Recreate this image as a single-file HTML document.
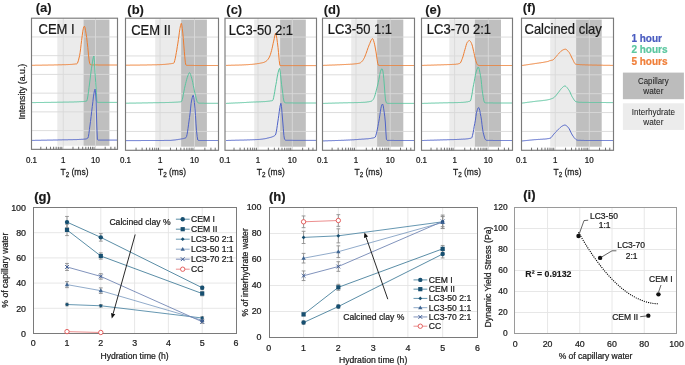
<!DOCTYPE html>
<html><head><meta charset="utf-8"><style>
html,body{margin:0;padding:0;background:#fff;}
svg{display:block;font-family:"Liberation Sans", sans-serif;}
#wrap{will-change:transform;width:685px;height:365px;overflow:hidden;}
text{stroke-width:0.22px;}
</style></head><body><div id="wrap">
<svg width="685" height="365" viewBox="0 0 685 365">
<rect width="685" height="365" fill="#fff"/>
<rect x="57.3" y="19.6" width="26.20" height="126.15" fill="#ebebeb"/>
<rect x="83.5" y="19.6" width="25.90" height="126.15" fill="#bfbfbf"/>
<line x1="31.5" y1="36.94" x2="117.5" y2="36.94" stroke="#d9d9d9" stroke-width="0.9"/>
<line x1="31.5" y1="55.67" x2="117.5" y2="55.67" stroke="#d9d9d9" stroke-width="0.9"/>
<line x1="31.5" y1="74.41" x2="117.5" y2="74.41" stroke="#d9d9d9" stroke-width="0.9"/>
<line x1="31.5" y1="93.14" x2="117.5" y2="93.14" stroke="#d9d9d9" stroke-width="0.9"/>
<line x1="31.5" y1="111.88" x2="117.5" y2="111.88" stroke="#d9d9d9" stroke-width="0.9"/>
<line x1="31.5" y1="130.61" x2="117.5" y2="130.61" stroke="#d9d9d9" stroke-width="0.9"/>
<line x1="63.3" y1="18.2" x2="63.3" y2="149.35" stroke="#d9d9d9" stroke-width="0.9"/>
<line x1="95.5" y1="18.2" x2="95.5" y2="149.35" stroke="#d9d9d9" stroke-width="0.9"/>
<path d="M32.0,65.3 L32.5,65.3 L33.0,65.3 L33.5,65.3 L34.0,65.3 L34.5,65.3 L35.0,65.2 L35.5,65.2 L36.0,65.2 L36.5,65.2 L37.0,65.2 L37.5,65.2 L38.0,65.2 L38.5,65.2 L39.0,65.2 L39.5,65.2 L40.0,65.2 L40.5,65.2 L41.0,65.2 L41.5,65.2 L42.0,65.1 L42.5,65.1 L43.0,65.1 L43.5,65.1 L44.0,65.1 L44.5,65.1 L45.0,65.1 L45.5,65.1 L46.0,65.1 L46.5,65.1 L47.0,65.1 L47.5,65.1 L48.0,65.1 L48.5,65.0 L49.0,65.0 L49.5,65.0 L50.0,65.0 L50.5,65.0 L51.0,65.0 L51.5,65.0 L52.0,65.0 L52.5,65.0 L53.0,65.0 L53.5,65.0 L54.0,64.9 L54.5,64.9 L55.0,64.9 L55.5,64.9 L56.0,64.9 L56.5,64.9 L57.0,64.9 L57.5,64.9 L58.0,64.9 L58.5,64.8 L59.0,64.8 L59.5,64.8 L60.0,64.8 L60.5,64.8 L61.0,64.8 L61.5,64.8 L62.0,64.7 L62.5,64.7 L63.1,64.7 L63.6,64.7 L64.1,64.7 L64.6,64.7 L65.1,64.7 L65.6,64.7 L66.1,64.6 L66.6,64.6 L67.1,64.6 L67.6,64.6 L68.1,64.6 L68.7,64.5 L69.2,64.5 L69.7,64.5 L70.2,64.5 L70.7,64.4 L71.2,64.4 L71.7,64.4 L72.2,64.3 L72.7,64.3 L73.2,64.2 L73.7,64.2 L74.3,64.1 L74.8,64.1 L75.3,64.0 L75.8,63.9 L76.3,63.9 L76.8,63.8 L77.4,63.3 L77.9,62.0 L78.5,60.2 L79.0,58.0 L79.6,55.6 L80.1,52.7 L80.6,48.8 L81.1,44.5 L81.6,40.5 L82.2,35.8 L82.8,31.2 L83.4,28.2 L83.9,26.8 L84.4,26.2 L85.0,27.4 L85.5,30.3 L86.1,33.7 L86.7,37.6 L87.2,42.3 L87.8,47.4 L88.5,54.9 L89.2,61.0 L89.7,63.3 L90.2,64.5 L90.8,64.7 L91.4,64.9 L92.0,64.9 L92.5,64.9 L93.0,64.9 L93.5,64.9 L94.0,64.9 L94.5,64.9 L95.0,64.9 L95.5,64.9 L96.0,64.9 L96.5,64.9 L97.0,64.9 L97.5,64.9 L98.0,64.9 L98.5,65.0 L99.0,65.0 L99.5,65.0 L100.0,65.0 L100.5,65.0 L101.0,65.0 L101.5,65.0 L102.0,65.0 L102.5,65.0 L103.0,65.0 L103.5,65.0 L104.0,65.0 L104.5,65.0 L105.0,65.0 L105.5,65.0 L106.0,65.0 L106.5,65.0 L107.0,65.0 L107.5,65.0 L108.0,65.0 L108.5,65.0 L109.0,65.0 L109.5,65.0 L110.0,65.0 L110.5,65.0 L111.0,65.0 L111.5,65.0 L112.0,65.0 L112.5,65.0 L113.0,65.0 L113.5,65.0 L114.0,65.0 L114.5,65.0 L115.0,65.0 L115.5,65.0 L116.0,65.0 L116.5,65.0 L117.0,65.0" fill="none" stroke="#ed7d31" stroke-width="1.0" stroke-linejoin="round"/>
<path d="M32.0,102.6 L32.5,102.6 L33.0,102.6 L33.5,102.6 L34.0,102.6 L34.5,102.6 L35.0,102.6 L35.5,102.6 L36.0,102.5 L36.5,102.5 L37.0,102.5 L37.5,102.5 L38.0,102.5 L38.5,102.5 L39.0,102.5 L39.5,102.5 L40.0,102.5 L40.5,102.5 L41.0,102.5 L41.5,102.5 L42.0,102.5 L42.5,102.5 L43.0,102.5 L43.5,102.5 L44.0,102.4 L44.5,102.4 L45.0,102.4 L45.5,102.4 L46.0,102.4 L46.5,102.4 L47.0,102.4 L47.5,102.4 L48.0,102.4 L48.5,102.4 L49.0,102.4 L49.5,102.4 L50.0,102.4 L50.5,102.4 L51.0,102.4 L51.5,102.3 L52.0,102.3 L52.5,102.3 L53.0,102.3 L53.5,102.3 L54.0,102.3 L54.5,102.3 L55.0,102.3 L55.5,102.3 L56.0,102.3 L56.5,102.3 L57.0,102.3 L57.5,102.2 L58.0,102.2 L58.5,102.2 L59.0,102.2 L59.5,102.2 L60.0,102.2 L60.5,102.2 L61.0,102.2 L61.5,102.2 L62.0,102.2 L62.5,102.2 L63.0,102.1 L63.5,102.1 L64.0,102.1 L64.5,102.1 L65.0,102.1 L65.5,102.1 L66.0,102.1 L66.5,102.1 L67.0,102.1 L67.5,102.1 L68.0,102.1 L68.5,102.1 L69.0,102.1 L69.5,102.0 L70.0,102.0 L70.5,102.0 L71.0,102.0 L71.5,102.0 L72.0,102.0 L72.5,102.0 L73.0,102.0 L73.5,102.0 L74.0,101.9 L74.5,101.9 L75.0,101.9 L75.5,101.9 L76.0,101.9 L76.5,101.9 L77.0,101.9 L77.5,101.8 L78.0,101.8 L78.5,101.8 L79.0,101.8 L79.5,101.7 L80.0,101.7 L80.5,101.7 L81.0,101.7 L81.5,101.6 L82.0,101.6 L82.5,101.6 L83.0,101.5 L83.5,101.5 L84.0,101.5 L84.5,101.4 L85.0,101.4 L85.5,101.3 L86.0,101.3 L86.8,100.9 L87.3,99.3 L87.9,95.9 L88.5,91.7 L89.0,87.6 L89.5,84.0 L90.0,80.0 L90.5,75.9 L91.0,71.9 L91.5,68.2 L92.0,65.0 L92.6,61.1 L93.3,57.5 L93.9,56.0 L94.5,62.2 L95.0,72.6 L95.7,82.3 L96.3,92.2 L96.9,102.0 L97.5,102.3 L98.0,102.4 L98.5,102.4 L99.0,102.4 L99.5,102.4 L100.0,102.4 L100.5,102.4 L101.0,102.4 L101.5,102.4 L102.0,102.4 L102.5,102.4 L103.0,102.4 L103.5,102.4 L104.0,102.4 L104.5,102.4 L105.0,102.4 L105.5,102.4 L106.0,102.4 L106.5,102.4 L107.0,102.4 L107.5,102.4 L108.0,102.4 L108.5,102.4 L109.0,102.4 L109.5,102.4 L110.0,102.4 L110.5,102.4 L111.0,102.4 L111.5,102.4 L112.0,102.4 L112.5,102.4 L113.0,102.4 L113.5,102.4 L114.0,102.4 L114.5,102.4 L115.0,102.4 L115.5,102.4 L116.0,102.4 L116.5,102.4 L117.0,102.4" fill="none" stroke="#5ac49e" stroke-width="1.0" stroke-linejoin="round"/>
<path d="M32.0,140.4 L32.5,140.4 L33.0,140.4 L33.5,140.4 L34.0,140.4 L34.5,140.4 L35.0,140.3 L35.5,140.3 L36.0,140.3 L36.5,140.3 L37.0,140.3 L37.5,140.3 L38.0,140.3 L38.5,140.3 L39.0,140.3 L39.5,140.3 L40.0,140.3 L40.5,140.3 L41.0,140.2 L41.5,140.2 L42.0,140.2 L42.5,140.2 L43.0,140.2 L43.5,140.2 L44.0,140.2 L44.5,140.2 L45.0,140.2 L45.5,140.2 L46.0,140.2 L46.5,140.2 L47.0,140.2 L47.5,140.1 L48.0,140.1 L48.5,140.1 L49.0,140.1 L49.5,140.1 L50.0,140.1 L50.5,140.1 L51.0,140.1 L51.5,140.1 L52.0,140.1 L52.5,140.1 L53.0,140.0 L53.5,140.0 L54.0,140.0 L54.5,140.0 L55.0,140.0 L55.5,140.0 L56.0,140.0 L56.5,140.0 L57.0,140.0 L57.5,140.0 L58.0,139.9 L58.5,139.9 L59.0,139.9 L59.5,139.9 L60.0,139.9 L60.5,139.9 L61.0,139.9 L61.5,139.9 L62.0,139.9 L62.5,139.8 L63.0,139.8 L63.5,139.8 L64.0,139.8 L64.5,139.8 L65.0,139.8 L65.5,139.8 L66.0,139.8 L66.5,139.8 L67.0,139.8 L67.5,139.8 L68.0,139.8 L68.5,139.7 L69.0,139.7 L69.5,139.7 L70.0,139.7 L70.5,139.7 L71.0,139.7 L71.5,139.7 L72.0,139.7 L72.5,139.7 L73.0,139.7 L73.5,139.6 L74.0,139.6 L74.5,139.6 L75.0,139.6 L75.5,139.6 L76.0,139.6 L76.5,139.6 L77.0,139.5 L77.5,139.5 L78.0,139.5 L78.5,139.5 L79.0,139.5 L79.5,139.4 L80.0,139.4 L80.5,139.4 L81.0,139.4 L81.5,139.3 L82.0,139.3 L82.5,139.3 L83.0,139.2 L83.5,139.2 L84.0,139.2 L84.5,139.1 L85.0,139.1 L85.6,139.0 L86.2,138.9 L86.7,138.7 L87.3,138.4 L87.9,138.0 L88.4,136.6 L88.9,133.5 L89.4,129.7 L89.9,126.0 L90.5,121.5 L91.1,116.5 L91.7,111.4 L92.3,106.4 L92.9,101.6 L93.4,96.9 L94.0,93.2 L94.5,90.5 L95.1,89.1 L95.6,92.9 L96.1,101.4 L96.8,126.0 L97.4,139.6 L98.0,140.0 L98.5,140.1 L99.0,140.1 L99.5,140.1 L100.0,140.1 L100.5,140.1 L101.0,140.1 L101.5,140.1 L102.0,140.1 L102.5,140.1 L103.0,140.1 L103.5,140.1 L104.0,140.1 L104.5,140.1 L105.0,140.1 L105.5,140.1 L106.0,140.1 L106.5,140.1 L107.0,140.1 L107.5,140.1 L108.0,140.1 L108.5,140.1 L109.0,140.1 L109.5,140.1 L110.0,140.1 L110.5,140.1 L111.0,140.1 L111.5,140.1 L112.0,140.1 L112.5,140.1 L113.0,140.1 L113.5,140.1 L114.0,140.1 L114.5,140.1 L115.0,140.1 L115.5,140.1 L116.0,140.1 L116.5,140.1 L117.0,140.1" fill="none" stroke="#4e62c8" stroke-width="1.0" stroke-linejoin="round"/>
<rect x="31.5" y="18.2" width="86.0" height="131.15" fill="none" stroke="#7a7a7a" stroke-width="1.15"/>
<line x1="40.79" y1="149.35" x2="40.79" y2="146.75" stroke="#5a5a5a" stroke-width="0.85"/>
<line x1="46.46" y1="149.35" x2="46.46" y2="146.75" stroke="#5a5a5a" stroke-width="0.85"/>
<line x1="50.49" y1="149.35" x2="50.49" y2="146.75" stroke="#5a5a5a" stroke-width="0.85"/>
<line x1="53.61" y1="149.35" x2="53.61" y2="146.75" stroke="#5a5a5a" stroke-width="0.85"/>
<line x1="56.16" y1="149.35" x2="56.16" y2="146.75" stroke="#5a5a5a" stroke-width="0.85"/>
<line x1="58.31" y1="149.35" x2="58.31" y2="146.75" stroke="#5a5a5a" stroke-width="0.85"/>
<line x1="60.18" y1="149.35" x2="60.18" y2="146.75" stroke="#5a5a5a" stroke-width="0.85"/>
<line x1="61.83" y1="149.35" x2="61.83" y2="146.75" stroke="#5a5a5a" stroke-width="0.85"/>
<line x1="72.99" y1="149.35" x2="72.99" y2="146.75" stroke="#5a5a5a" stroke-width="0.85"/>
<line x1="78.66" y1="149.35" x2="78.66" y2="146.75" stroke="#5a5a5a" stroke-width="0.85"/>
<line x1="82.69" y1="149.35" x2="82.69" y2="146.75" stroke="#5a5a5a" stroke-width="0.85"/>
<line x1="85.81" y1="149.35" x2="85.81" y2="146.75" stroke="#5a5a5a" stroke-width="0.85"/>
<line x1="88.36" y1="149.35" x2="88.36" y2="146.75" stroke="#5a5a5a" stroke-width="0.85"/>
<line x1="90.51" y1="149.35" x2="90.51" y2="146.75" stroke="#5a5a5a" stroke-width="0.85"/>
<line x1="92.38" y1="149.35" x2="92.38" y2="146.75" stroke="#5a5a5a" stroke-width="0.85"/>
<line x1="94.03" y1="149.35" x2="94.03" y2="146.75" stroke="#5a5a5a" stroke-width="0.85"/>
<line x1="105.19" y1="149.35" x2="105.19" y2="146.75" stroke="#5a5a5a" stroke-width="0.85"/>
<line x1="110.86" y1="149.35" x2="110.86" y2="146.75" stroke="#5a5a5a" stroke-width="0.85"/>
<line x1="114.89" y1="149.35" x2="114.89" y2="146.75" stroke="#5a5a5a" stroke-width="0.85"/>
<text x="35.70" y="12.10" font-size="13" text-anchor="start" font-weight="bold" fill="#1a1a1a" stroke="#1a1a1a" style="stroke-width:0.1px">(a)</text>
<text transform="translate(38.50,34.20) scale(1,1.1)" font-size="13" text-anchor="start" font-weight="normal" fill="#1a1a1a" stroke="#1a1a1a" >CEM I</text>
<text transform="translate(31.50,163.00) scale(1,1.1)" font-size="8" text-anchor="middle" font-weight="normal" fill="#1a1a1a" stroke="#1a1a1a" >0.1</text>
<text transform="translate(63.30,163.00) scale(1,1.1)" font-size="8" text-anchor="middle" font-weight="normal" fill="#1a1a1a" stroke="#1a1a1a" >1</text>
<text transform="translate(95.50,163.00) scale(1,1.1)" font-size="8" text-anchor="middle" font-weight="normal" fill="#1a1a1a" stroke="#1a1a1a" >10</text>
<text transform="translate(74.50,174.8) scale(1,1.15)" font-size="8.5" text-anchor="middle" fill="#1a1a1a" stroke="#1a1a1a">T<tspan font-size="6.3" dy="1.6">2</tspan><tspan dy="-1.6"> (ms)</tspan></text>
<rect x="155.2" y="19.6" width="25.90" height="127.10000000000002" fill="#ebebeb"/>
<rect x="181.1" y="19.6" width="25.80" height="127.10000000000002" fill="#bfbfbf"/>
<line x1="125.5" y1="37.07" x2="218.5" y2="37.07" stroke="#d9d9d9" stroke-width="0.9"/>
<line x1="125.5" y1="55.94" x2="218.5" y2="55.94" stroke="#d9d9d9" stroke-width="0.9"/>
<line x1="125.5" y1="74.81" x2="218.5" y2="74.81" stroke="#d9d9d9" stroke-width="0.9"/>
<line x1="125.5" y1="93.69" x2="218.5" y2="93.69" stroke="#d9d9d9" stroke-width="0.9"/>
<line x1="125.5" y1="112.56" x2="218.5" y2="112.56" stroke="#d9d9d9" stroke-width="0.9"/>
<line x1="125.5" y1="131.43" x2="218.5" y2="131.43" stroke="#d9d9d9" stroke-width="0.9"/>
<line x1="160.1" y1="18.2" x2="160.1" y2="150.3" stroke="#d9d9d9" stroke-width="0.9"/>
<line x1="194.5" y1="18.2" x2="194.5" y2="150.3" stroke="#d9d9d9" stroke-width="0.9"/>
<path d="M126.0,65.2 L126.5,65.2 L127.0,65.2 L127.5,65.2 L128.0,65.2 L128.5,65.2 L129.0,65.2 L129.5,65.2 L130.0,65.2 L130.5,65.1 L131.0,65.1 L131.5,65.1 L132.0,65.1 L132.5,65.1 L133.0,65.1 L133.5,65.1 L134.0,65.1 L134.5,65.1 L135.0,65.1 L135.5,65.1 L136.0,65.1 L136.5,65.1 L137.0,65.1 L137.5,65.1 L138.0,65.1 L138.5,65.1 L139.0,65.1 L139.5,65.1 L140.0,65.1 L140.5,65.0 L141.0,65.0 L141.5,65.0 L142.0,65.0 L142.5,65.0 L143.0,65.0 L143.5,65.0 L144.0,65.0 L144.5,65.0 L145.0,65.0 L145.5,65.0 L146.0,65.0 L146.5,65.0 L147.0,65.0 L147.5,64.9 L148.0,64.9 L148.5,64.9 L149.0,64.9 L149.5,64.9 L150.0,64.9 L150.5,64.9 L151.0,64.9 L151.5,64.9 L152.0,64.9 L152.5,64.8 L153.0,64.8 L153.5,64.8 L154.0,64.8 L154.5,64.8 L155.0,64.8 L155.5,64.8 L156.1,64.8 L156.6,64.8 L157.1,64.7 L157.6,64.7 L158.1,64.7 L158.6,64.7 L159.1,64.7 L159.6,64.7 L160.1,64.6 L160.6,64.6 L161.1,64.6 L161.6,64.6 L162.1,64.5 L162.6,64.5 L163.1,64.5 L163.6,64.4 L164.1,64.4 L164.6,64.4 L165.1,64.3 L165.6,64.3 L166.1,64.2 L166.6,64.2 L167.1,64.1 L167.6,64.1 L168.2,64.0 L168.7,64.0 L169.2,63.9 L169.7,63.8 L170.2,63.8 L170.7,63.7 L171.2,63.6 L171.7,63.6 L172.2,63.5 L172.7,63.4 L173.2,63.3 L173.7,63.2 L174.2,62.5 L174.7,60.7 L175.3,58.2 L175.8,55.4 L176.3,52.7 L176.8,49.9 L177.3,46.6 L177.9,43.1 L178.4,39.6 L178.9,36.1 L179.4,32.2 L180.0,28.4 L180.5,25.5 L181.3,23.3 L181.8,24.9 L182.3,28.7 L182.8,33.1 L183.3,38.5 L183.8,45.1 L184.3,51.2 L184.8,56.9 L185.3,62.2 L185.8,64.8 L186.4,65.2 L187.0,65.4 L187.5,65.4 L188.0,65.4 L188.5,65.4 L189.0,65.4 L189.5,65.4 L190.0,65.4 L190.5,65.4 L191.0,65.4 L191.5,65.4 L192.0,65.4 L192.5,65.4 L193.0,65.4 L193.5,65.4 L194.0,65.4 L194.5,65.5 L195.0,65.5 L195.5,65.5 L196.0,65.5 L196.5,65.5 L197.0,65.5 L197.5,65.5 L198.0,65.5 L198.5,65.5 L199.0,65.5 L199.5,65.5 L200.0,65.5 L200.5,65.5 L201.0,65.5 L201.5,65.5 L202.0,65.5 L202.5,65.5 L203.0,65.5 L203.5,65.5 L204.0,65.5 L204.5,65.5 L205.0,65.5 L205.5,65.5 L206.0,65.5 L206.5,65.5 L207.0,65.5 L207.5,65.5 L208.0,65.5 L208.5,65.5 L209.0,65.5 L209.5,65.5 L210.0,65.5 L210.5,65.5 L211.0,65.5 L211.5,65.5 L212.0,65.5 L212.5,65.5 L213.0,65.5 L213.5,65.5 L214.0,65.5 L214.5,65.5 L215.0,65.5 L215.5,65.5 L216.0,65.5 L216.5,65.5 L217.0,65.5 L217.5,65.5 L218.0,65.5" fill="none" stroke="#ed7d31" stroke-width="1.0" stroke-linejoin="round"/>
<path d="M126.0,103.2 L126.5,103.2 L127.0,103.2 L127.5,103.2 L128.0,103.2 L128.5,103.2 L129.0,103.2 L129.5,103.1 L130.0,103.1 L130.5,103.1 L131.0,103.1 L131.5,103.1 L132.0,103.1 L132.5,103.1 L133.0,103.1 L133.5,103.1 L134.0,103.1 L134.5,103.1 L135.0,103.1 L135.5,103.1 L136.0,103.0 L136.5,103.0 L137.0,103.0 L137.5,103.0 L138.0,103.0 L138.5,103.0 L139.0,103.0 L139.5,103.0 L140.0,103.0 L140.5,103.0 L141.0,103.0 L141.5,103.0 L142.0,103.0 L142.5,102.9 L143.0,102.9 L143.5,102.9 L144.0,102.9 L144.5,102.9 L145.0,102.9 L145.5,102.9 L146.0,102.9 L146.5,102.9 L147.0,102.9 L147.5,102.9 L148.0,102.8 L148.5,102.8 L149.0,102.8 L149.5,102.8 L150.0,102.8 L150.5,102.8 L151.0,102.8 L151.5,102.8 L152.0,102.8 L152.5,102.8 L153.0,102.7 L153.5,102.7 L154.0,102.7 L154.5,102.7 L155.0,102.7 L155.5,102.7 L156.0,102.7 L156.5,102.7 L157.0,102.7 L157.5,102.7 L158.1,102.7 L158.6,102.7 L159.1,102.7 L159.6,102.6 L160.1,102.6 L160.6,102.6 L161.1,102.6 L161.6,102.6 L162.1,102.6 L162.6,102.6 L163.1,102.6 L163.6,102.6 L164.1,102.6 L164.6,102.6 L165.1,102.6 L165.6,102.5 L166.1,102.5 L166.6,102.5 L167.1,102.5 L167.6,102.5 L168.1,102.5 L168.6,102.5 L169.1,102.5 L169.6,102.4 L170.1,102.4 L170.6,102.4 L171.1,102.4 L171.6,102.4 L172.1,102.4 L172.6,102.3 L173.1,102.3 L173.7,102.3 L174.2,102.3 L174.7,102.2 L175.2,102.2 L175.7,102.2 L176.2,102.2 L176.7,102.1 L177.2,102.1 L177.7,102.1 L178.2,102.0 L178.7,102.0 L179.2,102.0 L179.7,101.9 L180.2,101.9 L180.7,101.8 L181.2,101.8 L181.8,101.1 L182.3,99.5 L182.9,97.0 L183.4,94.2 L184.0,91.1 L184.5,88.3 L185.1,85.8 L185.6,83.6 L186.2,81.4 L186.7,79.3 L187.3,77.4 L187.8,75.9 L188.4,74.5 L188.9,73.2 L189.5,72.7 L190.1,73.2 L190.6,74.5 L191.1,76.3 L191.7,78.1 L192.2,80.1 L192.8,82.7 L193.3,85.5 L193.9,88.3 L194.4,91.0 L195.0,93.4 L195.6,95.7 L196.1,98.0 L196.7,100.1 L197.2,101.8 L197.8,102.6 L198.4,102.9 L198.9,103.1 L199.5,103.2 L200.0,103.2 L200.5,103.2 L201.0,103.2 L201.5,103.2 L202.0,103.2 L202.5,103.2 L203.0,103.2 L203.5,103.2 L204.0,103.2 L204.5,103.3 L205.0,103.3 L205.5,103.3 L206.0,103.3 L206.5,103.3 L207.0,103.3 L207.5,103.3 L208.0,103.3 L208.5,103.3 L209.0,103.3 L209.5,103.3 L210.0,103.3 L210.5,103.3 L211.0,103.3 L211.5,103.3 L212.0,103.3 L212.5,103.3 L213.0,103.3 L213.5,103.3 L214.0,103.3 L214.5,103.3 L215.0,103.3 L215.5,103.3 L216.0,103.3 L216.5,103.3 L217.0,103.3 L217.5,103.3 L218.0,103.3" fill="none" stroke="#5ac49e" stroke-width="1.0" stroke-linejoin="round"/>
<path d="M126.0,140.6 L126.5,140.6 L127.0,140.6 L127.5,140.6 L128.0,140.6 L128.5,140.6 L129.0,140.6 L129.5,140.6 L130.0,140.6 L130.5,140.6 L131.0,140.6 L131.5,140.6 L132.0,140.6 L132.5,140.6 L133.0,140.6 L133.5,140.6 L134.0,140.6 L134.5,140.6 L135.0,140.6 L135.5,140.6 L136.0,140.6 L136.5,140.6 L137.0,140.6 L137.5,140.6 L138.0,140.6 L138.5,140.6 L139.0,140.6 L139.5,140.6 L140.0,140.6 L140.5,140.6 L141.0,140.6 L141.5,140.5 L142.0,140.5 L142.5,140.5 L143.0,140.5 L143.5,140.5 L144.0,140.5 L144.5,140.5 L145.0,140.5 L145.5,140.5 L146.0,140.5 L146.5,140.5 L147.0,140.5 L147.5,140.5 L148.0,140.5 L148.5,140.5 L149.0,140.5 L149.5,140.5 L150.0,140.5 L150.5,140.5 L151.0,140.5 L151.5,140.5 L152.0,140.5 L152.5,140.5 L153.0,140.5 L153.5,140.5 L154.0,140.5 L154.5,140.5 L155.0,140.5 L155.5,140.5 L156.0,140.5 L156.5,140.5 L157.0,140.5 L157.5,140.5 L158.0,140.5 L158.5,140.5 L159.0,140.5 L159.5,140.5 L160.0,140.5 L160.5,140.5 L161.0,140.5 L161.5,140.5 L162.0,140.5 L162.5,140.5 L163.0,140.5 L163.5,140.5 L164.0,140.4 L164.5,140.4 L165.0,140.4 L165.5,140.4 L166.0,140.4 L166.5,140.4 L167.0,140.4 L167.5,140.4 L168.0,140.4 L168.5,140.4 L169.0,140.4 L169.5,140.4 L170.0,140.4 L170.5,140.4 L171.0,140.3 L171.5,140.3 L172.0,140.3 L172.5,140.2 L173.0,140.2 L173.5,140.1 L174.0,140.1 L174.5,140.0 L175.1,139.9 L175.6,139.9 L176.1,139.8 L176.6,139.7 L177.1,139.7 L177.6,139.6 L178.1,139.5 L178.6,139.4 L179.1,139.3 L179.6,139.3 L180.1,139.2 L180.6,139.1 L181.1,139.0 L181.6,138.9 L182.2,138.8 L182.7,138.7 L183.3,138.6 L183.8,138.5 L184.4,138.3 L184.9,138.1 L185.5,137.9 L186.0,137.6 L186.5,136.7 L187.0,134.7 L187.5,131.9 L188.0,128.5 L188.5,124.8 L189.0,121.1 L189.5,117.5 L190.1,113.1 L190.6,108.1 L191.1,103.4 L191.7,100.0 L192.2,97.8 L192.7,96.0 L193.2,95.2 L193.8,97.4 L194.4,102.6 L195.0,108.8 L195.5,115.6 L196.0,123.9 L196.5,130.6 L197.2,136.7 L197.8,140.0 L198.4,140.4 L199.0,140.5 L199.5,140.5 L200.0,140.5 L200.5,140.5 L201.0,140.5 L201.5,140.5 L202.0,140.5 L202.5,140.5 L203.0,140.5 L203.5,140.5 L204.0,140.5 L204.5,140.5 L205.0,140.5 L205.5,140.5 L206.0,140.5 L206.5,140.5 L207.0,140.5 L207.5,140.5 L208.0,140.5 L208.5,140.5 L209.0,140.5 L209.5,140.5 L210.0,140.5 L210.5,140.5 L211.0,140.5 L211.5,140.5 L212.0,140.5 L212.5,140.5 L213.0,140.5 L213.5,140.5 L214.0,140.5 L214.5,140.5 L215.0,140.5 L215.5,140.5 L216.0,140.5 L216.5,140.5 L217.0,140.5 L217.5,140.5 L218.0,140.5" fill="none" stroke="#4e62c8" stroke-width="1.0" stroke-linejoin="round"/>
<rect x="125.5" y="18.2" width="93.0" height="132.10000000000002" fill="none" stroke="#7a7a7a" stroke-width="1.15"/>
<line x1="136.06" y1="150.3" x2="136.06" y2="147.70" stroke="#5a5a5a" stroke-width="0.85"/>
<line x1="142.11" y1="150.3" x2="142.11" y2="147.70" stroke="#5a5a5a" stroke-width="0.85"/>
<line x1="146.41" y1="150.3" x2="146.41" y2="147.70" stroke="#5a5a5a" stroke-width="0.85"/>
<line x1="149.74" y1="150.3" x2="149.74" y2="147.70" stroke="#5a5a5a" stroke-width="0.85"/>
<line x1="152.47" y1="150.3" x2="152.47" y2="147.70" stroke="#5a5a5a" stroke-width="0.85"/>
<line x1="154.77" y1="150.3" x2="154.77" y2="147.70" stroke="#5a5a5a" stroke-width="0.85"/>
<line x1="156.77" y1="150.3" x2="156.77" y2="147.70" stroke="#5a5a5a" stroke-width="0.85"/>
<line x1="158.53" y1="150.3" x2="158.53" y2="147.70" stroke="#5a5a5a" stroke-width="0.85"/>
<line x1="170.46" y1="150.3" x2="170.46" y2="147.70" stroke="#5a5a5a" stroke-width="0.85"/>
<line x1="176.51" y1="150.3" x2="176.51" y2="147.70" stroke="#5a5a5a" stroke-width="0.85"/>
<line x1="180.81" y1="150.3" x2="180.81" y2="147.70" stroke="#5a5a5a" stroke-width="0.85"/>
<line x1="184.14" y1="150.3" x2="184.14" y2="147.70" stroke="#5a5a5a" stroke-width="0.85"/>
<line x1="186.87" y1="150.3" x2="186.87" y2="147.70" stroke="#5a5a5a" stroke-width="0.85"/>
<line x1="189.17" y1="150.3" x2="189.17" y2="147.70" stroke="#5a5a5a" stroke-width="0.85"/>
<line x1="191.17" y1="150.3" x2="191.17" y2="147.70" stroke="#5a5a5a" stroke-width="0.85"/>
<line x1="192.93" y1="150.3" x2="192.93" y2="147.70" stroke="#5a5a5a" stroke-width="0.85"/>
<line x1="204.86" y1="150.3" x2="204.86" y2="147.70" stroke="#5a5a5a" stroke-width="0.85"/>
<line x1="210.91" y1="150.3" x2="210.91" y2="147.70" stroke="#5a5a5a" stroke-width="0.85"/>
<line x1="215.21" y1="150.3" x2="215.21" y2="147.70" stroke="#5a5a5a" stroke-width="0.85"/>
<text x="127.30" y="13.50" font-size="13" text-anchor="start" font-weight="bold" fill="#1a1a1a" stroke="#1a1a1a" style="stroke-width:0.1px">(b)</text>
<text transform="translate(131.20,34.60) scale(1,1.1)" font-size="13" text-anchor="start" font-weight="normal" fill="#1a1a1a" stroke="#1a1a1a" >CEM II</text>
<text transform="translate(125.50,163.00) scale(1,1.1)" font-size="8" text-anchor="middle" font-weight="normal" fill="#1a1a1a" stroke="#1a1a1a" >0.1</text>
<text transform="translate(160.10,163.00) scale(1,1.1)" font-size="8" text-anchor="middle" font-weight="normal" fill="#1a1a1a" stroke="#1a1a1a" >1</text>
<text transform="translate(194.50,163.00) scale(1,1.1)" font-size="8" text-anchor="middle" font-weight="normal" fill="#1a1a1a" stroke="#1a1a1a" >10</text>
<text transform="translate(172.00,174.8) scale(1,1.15)" font-size="8.5" text-anchor="middle" fill="#1a1a1a" stroke="#1a1a1a">T<tspan font-size="6.3" dy="1.6">2</tspan><tspan dy="-1.6"> (ms)</tspan></text>
<rect x="254.2" y="19.6" width="25.90" height="127.10000000000002" fill="#ebebeb"/>
<rect x="280.1" y="19.6" width="25.70" height="127.10000000000002" fill="#bfbfbf"/>
<line x1="225.0" y1="37.07" x2="316.5" y2="37.07" stroke="#d9d9d9" stroke-width="0.9"/>
<line x1="225.0" y1="55.94" x2="316.5" y2="55.94" stroke="#d9d9d9" stroke-width="0.9"/>
<line x1="225.0" y1="74.81" x2="316.5" y2="74.81" stroke="#d9d9d9" stroke-width="0.9"/>
<line x1="225.0" y1="93.69" x2="316.5" y2="93.69" stroke="#d9d9d9" stroke-width="0.9"/>
<line x1="225.0" y1="112.56" x2="316.5" y2="112.56" stroke="#d9d9d9" stroke-width="0.9"/>
<line x1="225.0" y1="131.43" x2="316.5" y2="131.43" stroke="#d9d9d9" stroke-width="0.9"/>
<line x1="258.0" y1="18.2" x2="258.0" y2="150.3" stroke="#d9d9d9" stroke-width="0.9"/>
<line x1="292.3" y1="18.2" x2="292.3" y2="150.3" stroke="#d9d9d9" stroke-width="0.9"/>
<path d="M226.0,65.4 L226.5,65.4 L227.0,65.4 L227.5,65.4 L228.0,65.3 L228.5,65.3 L229.0,65.3 L229.5,65.3 L230.0,65.3 L230.5,65.3 L231.0,65.3 L231.5,65.2 L232.0,65.2 L232.5,65.2 L233.0,65.2 L233.5,65.2 L234.0,65.2 L234.5,65.2 L235.0,65.2 L235.5,65.1 L236.0,65.1 L236.5,65.1 L237.0,65.1 L237.5,65.1 L238.0,65.1 L238.5,65.1 L239.0,65.0 L239.5,65.0 L240.0,65.0 L240.5,65.0 L241.0,65.0 L241.5,65.0 L242.0,64.9 L242.5,64.9 L243.0,64.9 L243.5,64.9 L244.0,64.8 L244.5,64.8 L245.0,64.8 L245.5,64.8 L246.0,64.7 L246.5,64.7 L247.0,64.7 L247.5,64.7 L248.0,64.6 L248.5,64.6 L249.0,64.6 L249.6,64.5 L250.1,64.5 L250.6,64.4 L251.1,64.4 L251.6,64.4 L252.1,64.3 L252.6,64.3 L253.1,64.2 L253.6,64.2 L254.1,64.1 L254.6,64.1 L255.1,64.0 L255.6,63.9 L256.1,63.9 L256.6,63.8 L257.1,63.7 L257.6,63.6 L258.1,63.6 L258.6,63.5 L259.2,63.4 L259.7,63.3 L260.2,63.2 L260.7,63.1 L261.2,63.0 L261.7,62.9 L262.2,62.8 L262.7,62.7 L263.2,62.6 L263.8,62.4 L264.3,62.2 L264.9,61.9 L265.5,61.6 L266.0,61.2 L266.6,60.8 L267.2,60.3 L267.7,59.7 L268.3,59.0 L268.8,58.1 L269.4,57.1 L269.9,55.9 L270.5,54.3 L271.0,52.4 L271.6,50.4 L272.1,48.3 L272.6,46.1 L273.1,43.6 L273.7,41.1 L274.2,38.7 L274.9,35.2 L275.5,33.2 L276.2,35.0 L276.9,38.7 L277.4,42.5 L278.0,47.4 L278.5,52.4 L279.2,60.4 L279.9,65.4 L280.4,65.5 L281.0,65.6 L281.5,65.6 L282.0,65.6 L282.5,65.6 L283.0,65.6 L283.5,65.6 L284.0,65.6 L284.5,65.6 L285.0,65.6 L285.5,65.6 L286.0,65.6 L286.5,65.6 L287.0,65.6 L287.5,65.6 L288.0,65.6 L288.5,65.6 L289.0,65.6 L289.5,65.6 L290.0,65.6 L290.5,65.6 L291.0,65.6 L291.5,65.6 L292.0,65.6 L292.5,65.6 L293.0,65.6 L293.5,65.6 L294.0,65.6 L294.5,65.6 L295.0,65.6 L295.5,65.6 L296.0,65.6 L296.5,65.6 L297.0,65.6 L297.5,65.6 L298.0,65.6 L298.5,65.6 L299.0,65.6 L299.5,65.6 L300.0,65.6 L300.5,65.6 L301.0,65.6 L301.5,65.6 L302.0,65.6 L302.5,65.6 L303.0,65.6 L303.5,65.6 L304.0,65.6 L304.5,65.6 L305.0,65.6 L305.5,65.6 L306.0,65.6 L306.5,65.6 L307.0,65.6 L307.5,65.6 L308.0,65.6 L308.5,65.6 L309.0,65.6 L309.5,65.6 L310.0,65.6 L310.5,65.6 L311.0,65.6 L311.5,65.6 L312.0,65.6 L312.5,65.6 L313.0,65.6 L313.5,65.6 L314.0,65.6 L314.5,65.6 L315.0,65.6 L315.5,65.6 L316.0,65.6" fill="none" stroke="#ed7d31" stroke-width="1.0" stroke-linejoin="round"/>
<path d="M226.0,103.4 L226.5,103.4 L227.0,103.4 L227.5,103.3 L228.0,103.3 L228.5,103.3 L229.0,103.3 L229.5,103.2 L230.0,103.2 L230.5,103.2 L231.0,103.2 L231.5,103.1 L232.0,103.1 L232.5,103.1 L233.0,103.1 L233.5,103.0 L234.0,103.0 L234.5,103.0 L235.0,103.0 L235.5,102.9 L236.0,102.9 L236.5,102.9 L237.0,102.9 L237.5,102.9 L238.0,102.8 L238.5,102.8 L239.0,102.8 L239.5,102.8 L240.0,102.7 L240.5,102.7 L241.0,102.7 L241.5,102.7 L242.0,102.6 L242.5,102.6 L243.0,102.6 L243.5,102.6 L244.0,102.5 L244.5,102.5 L245.0,102.5 L245.5,102.5 L246.0,102.4 L246.5,102.4 L247.0,102.4 L247.5,102.3 L248.0,102.3 L248.5,102.3 L249.0,102.3 L249.5,102.2 L250.0,102.2 L250.5,102.2 L251.0,102.1 L251.5,102.1 L252.0,102.1 L252.5,102.1 L253.0,102.1 L253.5,102.0 L254.0,102.0 L254.5,102.0 L255.0,102.0 L255.5,102.0 L256.0,101.9 L256.5,101.9 L257.0,101.9 L257.5,101.9 L258.0,101.9 L258.5,101.9 L259.0,101.8 L259.5,101.8 L260.0,101.8 L260.5,101.8 L261.0,101.8 L261.5,101.7 L262.0,101.7 L262.5,101.7 L263.0,101.7 L263.5,101.6 L264.0,101.6 L264.5,101.6 L265.0,101.5 L265.5,101.5 L266.0,101.4 L266.5,101.4 L267.0,101.4 L267.5,101.3 L268.0,101.3 L268.5,101.2 L269.0,101.1 L269.5,101.1 L270.0,101.0 L270.5,100.9 L271.0,100.9 L271.5,100.8 L272.0,100.7 L272.5,100.6 L273.1,99.7 L273.6,97.7 L274.2,94.7 L274.8,91.3 L275.3,87.9 L275.9,84.7 L276.5,81.5 L277.0,78.1 L277.6,74.8 L278.2,72.2 L278.9,69.7 L279.5,68.4 L280.0,70.3 L280.6,74.7 L281.1,80.1 L281.6,84.7 L282.2,89.0 L282.8,93.6 L283.3,97.8 L283.9,101.0 L284.5,102.4 L285.0,102.7 L285.5,102.8 L286.0,102.9 L286.5,102.9 L287.0,102.9 L287.5,102.9 L288.0,102.9 L288.5,102.9 L289.0,102.9 L289.5,102.9 L290.0,102.9 L290.5,102.9 L291.0,102.9 L291.5,102.9 L292.0,102.9 L292.5,102.9 L293.0,102.9 L293.5,103.0 L294.0,103.0 L294.5,103.0 L295.0,103.0 L295.5,103.0 L296.0,103.0 L296.5,103.0 L297.0,103.0 L297.5,103.0 L298.0,103.0 L298.5,103.0 L299.0,103.0 L299.5,103.0 L300.0,103.0 L300.5,103.0 L301.0,103.0 L301.5,103.0 L302.0,103.0 L302.5,103.0 L303.0,103.0 L303.5,103.0 L304.0,103.0 L304.5,103.0 L305.0,103.0 L305.5,103.0 L306.0,103.0 L306.5,103.0 L307.0,103.0 L307.5,103.0 L308.0,103.0 L308.5,103.0 L309.0,103.0 L309.5,103.0 L310.0,103.0 L310.5,103.0 L311.0,103.0 L311.5,103.0 L312.0,103.0 L312.5,103.0 L313.0,103.0 L313.5,103.0 L314.0,103.0 L314.5,103.0 L315.0,103.0 L315.5,103.0 L316.0,103.0" fill="none" stroke="#5ac49e" stroke-width="1.0" stroke-linejoin="round"/>
<path d="M226.0,140.5 L226.5,140.5 L227.0,140.5 L227.5,140.5 L228.0,140.4 L228.5,140.4 L229.0,140.4 L229.5,140.4 L230.0,140.4 L230.6,140.4 L231.1,140.4 L231.6,140.3 L232.1,140.3 L232.6,140.3 L233.1,140.3 L233.6,140.3 L234.1,140.3 L234.6,140.3 L235.1,140.3 L235.6,140.2 L236.1,140.2 L236.6,140.2 L237.1,140.2 L237.6,140.2 L238.1,140.2 L238.7,140.2 L239.2,140.2 L239.7,140.1 L240.2,140.1 L240.7,140.1 L241.2,140.1 L241.7,140.1 L242.2,140.1 L242.7,140.1 L243.2,140.1 L243.7,140.1 L244.2,140.0 L244.7,140.0 L245.2,140.0 L245.7,140.0 L246.2,140.0 L246.7,140.0 L247.3,139.9 L247.8,139.9 L248.3,139.9 L248.8,139.9 L249.3,139.9 L249.8,139.9 L250.3,139.8 L250.8,139.8 L251.3,139.8 L251.8,139.8 L252.3,139.8 L252.8,139.7 L253.3,139.7 L253.8,139.7 L254.3,139.7 L254.8,139.7 L255.4,139.6 L255.9,139.6 L256.4,139.6 L256.9,139.5 L257.4,139.5 L257.9,139.5 L258.4,139.5 L258.9,139.4 L259.4,139.4 L259.9,139.4 L260.4,139.3 L260.9,139.3 L261.4,139.2 L261.9,139.2 L262.4,139.1 L262.9,139.0 L263.4,138.9 L263.9,138.9 L264.4,138.8 L265.0,138.7 L265.5,138.6 L266.0,138.5 L266.5,138.4 L267.0,138.3 L267.5,138.1 L268.0,138.0 L268.5,137.9 L269.0,137.8 L269.5,137.6 L270.0,137.5 L270.5,137.4 L271.1,137.2 L271.6,137.1 L272.1,136.9 L272.6,136.7 L273.2,136.5 L273.7,136.2 L274.2,135.9 L274.8,135.5 L275.3,135.1 L275.8,134.0 L276.3,131.8 L276.8,128.8 L277.3,125.5 L277.8,122.0 L278.3,118.7 L278.8,115.2 L279.3,111.3 L279.8,107.7 L280.3,105.1 L280.9,103.3 L281.5,106.6 L282.1,113.8 L282.7,121.0 L283.3,128.2 L283.9,135.5 L284.5,139.2 L285.0,139.8 L285.5,140.2 L286.0,140.3 L286.5,140.3 L287.0,140.3 L287.5,140.3 L288.0,140.3 L288.5,140.3 L289.0,140.3 L289.5,140.3 L290.0,140.3 L290.5,140.3 L291.0,140.3 L291.5,140.3 L292.0,140.3 L292.5,140.3 L293.0,140.3 L293.5,140.4 L294.0,140.4 L294.5,140.4 L295.0,140.4 L295.5,140.4 L296.0,140.4 L296.5,140.4 L297.0,140.4 L297.5,140.4 L298.0,140.4 L298.5,140.4 L299.0,140.4 L299.5,140.4 L300.0,140.4 L300.5,140.4 L301.0,140.4 L301.5,140.4 L302.0,140.4 L302.5,140.4 L303.0,140.4 L303.5,140.4 L304.0,140.4 L304.5,140.4 L305.0,140.4 L305.5,140.4 L306.0,140.4 L306.5,140.4 L307.0,140.4 L307.5,140.4 L308.0,140.4 L308.5,140.4 L309.0,140.4 L309.5,140.4 L310.0,140.4 L310.5,140.4 L311.0,140.4 L311.5,140.4 L312.0,140.4 L312.5,140.4 L313.0,140.4 L313.5,140.4 L314.0,140.4 L314.5,140.4 L315.0,140.4 L315.5,140.4 L316.0,140.4" fill="none" stroke="#4e62c8" stroke-width="1.0" stroke-linejoin="round"/>
<rect x="225.0" y="18.2" width="91.5" height="132.10000000000002" fill="none" stroke="#7a7a7a" stroke-width="1.15"/>
<line x1="234.03" y1="150.3" x2="234.03" y2="147.70" stroke="#5a5a5a" stroke-width="0.85"/>
<line x1="240.07" y1="150.3" x2="240.07" y2="147.70" stroke="#5a5a5a" stroke-width="0.85"/>
<line x1="244.35" y1="150.3" x2="244.35" y2="147.70" stroke="#5a5a5a" stroke-width="0.85"/>
<line x1="247.67" y1="150.3" x2="247.67" y2="147.70" stroke="#5a5a5a" stroke-width="0.85"/>
<line x1="250.39" y1="150.3" x2="250.39" y2="147.70" stroke="#5a5a5a" stroke-width="0.85"/>
<line x1="252.69" y1="150.3" x2="252.69" y2="147.70" stroke="#5a5a5a" stroke-width="0.85"/>
<line x1="254.68" y1="150.3" x2="254.68" y2="147.70" stroke="#5a5a5a" stroke-width="0.85"/>
<line x1="256.43" y1="150.3" x2="256.43" y2="147.70" stroke="#5a5a5a" stroke-width="0.85"/>
<line x1="268.33" y1="150.3" x2="268.33" y2="147.70" stroke="#5a5a5a" stroke-width="0.85"/>
<line x1="274.37" y1="150.3" x2="274.37" y2="147.70" stroke="#5a5a5a" stroke-width="0.85"/>
<line x1="278.65" y1="150.3" x2="278.65" y2="147.70" stroke="#5a5a5a" stroke-width="0.85"/>
<line x1="281.97" y1="150.3" x2="281.97" y2="147.70" stroke="#5a5a5a" stroke-width="0.85"/>
<line x1="284.69" y1="150.3" x2="284.69" y2="147.70" stroke="#5a5a5a" stroke-width="0.85"/>
<line x1="286.99" y1="150.3" x2="286.99" y2="147.70" stroke="#5a5a5a" stroke-width="0.85"/>
<line x1="288.98" y1="150.3" x2="288.98" y2="147.70" stroke="#5a5a5a" stroke-width="0.85"/>
<line x1="290.73" y1="150.3" x2="290.73" y2="147.70" stroke="#5a5a5a" stroke-width="0.85"/>
<line x1="302.63" y1="150.3" x2="302.63" y2="147.70" stroke="#5a5a5a" stroke-width="0.85"/>
<line x1="308.67" y1="150.3" x2="308.67" y2="147.70" stroke="#5a5a5a" stroke-width="0.85"/>
<line x1="312.95" y1="150.3" x2="312.95" y2="147.70" stroke="#5a5a5a" stroke-width="0.85"/>
<text x="226.30" y="13.50" font-size="13" text-anchor="start" font-weight="bold" fill="#1a1a1a" stroke="#1a1a1a" style="stroke-width:0.1px">(c)</text>
<text transform="translate(228.80,34.80) scale(1,1.1)" font-size="13" text-anchor="start" font-weight="normal" fill="#1a1a1a" stroke="#1a1a1a" >LC3-50 2:1</text>
<text transform="translate(225.00,163.00) scale(1,1.1)" font-size="8" text-anchor="middle" font-weight="normal" fill="#1a1a1a" stroke="#1a1a1a" >0.1</text>
<text transform="translate(258.00,163.00) scale(1,1.1)" font-size="8" text-anchor="middle" font-weight="normal" fill="#1a1a1a" stroke="#1a1a1a" >1</text>
<text transform="translate(292.30,163.00) scale(1,1.1)" font-size="8" text-anchor="middle" font-weight="normal" fill="#1a1a1a" stroke="#1a1a1a" >10</text>
<text transform="translate(270.75,174.8) scale(1,1.15)" font-size="8.5" text-anchor="middle" fill="#1a1a1a" stroke="#1a1a1a">T<tspan font-size="6.3" dy="1.6">2</tspan><tspan dy="-1.6"> (ms)</tspan></text>
<rect x="351.2" y="19.6" width="25.90" height="127.10000000000002" fill="#ebebeb"/>
<rect x="377.1" y="19.6" width="26.20" height="127.10000000000002" fill="#bfbfbf"/>
<line x1="322.5" y1="37.07" x2="414.5" y2="37.07" stroke="#d9d9d9" stroke-width="0.9"/>
<line x1="322.5" y1="55.94" x2="414.5" y2="55.94" stroke="#d9d9d9" stroke-width="0.9"/>
<line x1="322.5" y1="74.81" x2="414.5" y2="74.81" stroke="#d9d9d9" stroke-width="0.9"/>
<line x1="322.5" y1="93.69" x2="414.5" y2="93.69" stroke="#d9d9d9" stroke-width="0.9"/>
<line x1="322.5" y1="112.56" x2="414.5" y2="112.56" stroke="#d9d9d9" stroke-width="0.9"/>
<line x1="322.5" y1="131.43" x2="414.5" y2="131.43" stroke="#d9d9d9" stroke-width="0.9"/>
<line x1="356.0" y1="18.2" x2="356.0" y2="150.3" stroke="#d9d9d9" stroke-width="0.9"/>
<line x1="390.2" y1="18.2" x2="390.2" y2="150.3" stroke="#d9d9d9" stroke-width="0.9"/>
<path d="M323.0,65.4 L323.5,65.4 L324.0,65.4 L324.5,65.3 L325.0,65.3 L325.5,65.3 L326.0,65.3 L326.5,65.3 L327.0,65.2 L327.5,65.2 L328.0,65.2 L328.5,65.2 L329.0,65.2 L329.5,65.1 L330.0,65.1 L330.5,65.1 L331.0,65.1 L331.5,65.1 L332.0,65.1 L332.5,65.0 L333.0,65.0 L333.5,65.0 L334.0,65.0 L334.5,65.0 L335.0,64.9 L335.5,64.9 L336.0,64.9 L336.5,64.9 L337.0,64.9 L337.5,64.8 L338.0,64.8 L338.5,64.8 L339.0,64.8 L339.5,64.8 L340.0,64.7 L340.5,64.7 L341.0,64.7 L341.5,64.7 L342.0,64.6 L342.5,64.6 L343.0,64.6 L343.5,64.6 L344.0,64.5 L344.5,64.5 L345.0,64.5 L345.5,64.5 L346.0,64.5 L346.5,64.4 L347.0,64.4 L347.5,64.4 L348.0,64.4 L348.5,64.3 L349.0,64.3 L349.5,64.3 L350.0,64.3 L350.5,64.2 L351.0,64.2 L351.5,64.2 L352.0,64.1 L352.5,64.1 L353.0,64.1 L353.5,64.0 L354.0,64.0 L354.5,63.9 L355.0,63.9 L355.5,63.8 L356.1,63.8 L356.6,63.7 L357.2,63.6 L357.7,63.5 L358.3,63.4 L358.8,63.3 L359.4,63.2 L359.9,63.0 L360.4,62.8 L360.9,62.4 L361.4,62.0 L362.0,61.4 L362.5,60.8 L363.0,60.2 L363.5,59.4 L364.0,58.4 L364.6,57.3 L365.1,56.0 L365.6,54.7 L366.1,53.4 L366.6,52.0 L367.1,50.6 L367.6,49.0 L368.2,47.5 L368.7,46.1 L369.2,44.8 L369.8,43.5 L370.3,42.1 L370.9,40.8 L371.5,39.7 L372.0,38.9 L372.6,38.6 L373.1,39.2 L373.6,40.7 L374.2,42.7 L374.7,44.8 L375.3,48.0 L376.0,51.9 L376.6,55.9 L377.1,59.6 L377.7,63.3 L378.2,65.1 L378.8,65.3 L379.4,65.5 L380.0,65.5 L380.5,65.5 L381.0,65.5 L381.5,65.5 L382.0,65.5 L382.5,65.5 L383.0,65.5 L383.5,65.5 L384.0,65.5 L384.5,65.5 L385.0,65.5 L385.5,65.5 L386.0,65.5 L386.5,65.5 L387.0,65.5 L387.5,65.5 L388.0,65.5 L388.5,65.5 L389.0,65.5 L389.5,65.5 L390.0,65.5 L390.5,65.5 L391.0,65.5 L391.5,65.5 L392.0,65.5 L392.5,65.5 L393.0,65.5 L393.5,65.5 L394.0,65.5 L394.5,65.5 L395.0,65.5 L395.5,65.5 L396.0,65.5 L396.5,65.5 L397.0,65.5 L397.5,65.5 L398.0,65.5 L398.5,65.5 L399.0,65.5 L399.5,65.5 L400.0,65.5 L400.5,65.5 L401.0,65.5 L401.5,65.5 L402.0,65.5 L402.5,65.5 L403.0,65.5 L403.5,65.5 L404.0,65.5 L404.5,65.5 L405.0,65.5 L405.5,65.5 L406.0,65.5 L406.5,65.5 L407.0,65.5 L407.5,65.5 L408.0,65.5 L408.5,65.5 L409.0,65.5 L409.5,65.5 L410.0,65.5 L410.5,65.5 L411.0,65.5 L411.5,65.5 L412.0,65.5 L412.5,65.5 L413.0,65.5 L413.5,65.5 L414.0,65.5" fill="none" stroke="#ed7d31" stroke-width="1.0" stroke-linejoin="round"/>
<path d="M323.0,103.4 L323.5,103.4 L324.0,103.4 L324.5,103.4 L325.0,103.3 L325.5,103.3 L326.0,103.3 L326.5,103.3 L327.0,103.3 L327.5,103.3 L328.0,103.3 L328.5,103.2 L329.0,103.2 L329.5,103.2 L330.0,103.2 L330.5,103.2 L331.0,103.2 L331.5,103.2 L332.0,103.1 L332.5,103.1 L333.0,103.1 L333.5,103.1 L334.0,103.1 L334.5,103.1 L335.0,103.1 L335.5,103.0 L336.0,103.0 L336.5,103.0 L337.0,103.0 L337.5,103.0 L338.0,103.0 L338.5,103.0 L339.0,102.9 L339.5,102.9 L340.0,102.9 L340.5,102.9 L341.0,102.9 L341.5,102.9 L342.0,102.9 L342.5,102.9 L343.0,102.8 L343.5,102.8 L344.0,102.8 L344.5,102.8 L345.0,102.8 L345.5,102.8 L346.0,102.8 L346.5,102.8 L347.0,102.8 L347.5,102.8 L348.0,102.7 L348.5,102.7 L349.0,102.7 L349.5,102.7 L350.0,102.7 L350.5,102.7 L351.0,102.7 L351.5,102.7 L352.0,102.7 L352.5,102.7 L353.0,102.7 L353.5,102.7 L354.0,102.6 L354.5,102.6 L355.0,102.6 L355.5,102.6 L356.0,102.6 L356.5,102.6 L357.0,102.6 L357.5,102.6 L358.0,102.6 L358.5,102.5 L359.0,102.5 L359.5,102.5 L360.0,102.5 L360.5,102.5 L361.0,102.5 L361.5,102.4 L362.0,102.4 L362.5,102.4 L363.0,102.4 L363.5,102.3 L364.0,102.3 L364.5,102.3 L365.0,102.2 L365.5,102.2 L366.0,102.1 L366.5,102.1 L367.0,102.0 L367.5,101.9 L368.0,101.9 L368.5,101.8 L369.0,101.7 L369.5,101.6 L370.0,101.5 L370.5,101.4 L371.0,101.3 L371.6,101.1 L372.1,100.7 L372.6,100.1 L373.2,99.5 L373.7,98.7 L374.2,97.6 L374.7,96.2 L375.2,94.6 L375.7,92.8 L376.2,90.9 L376.7,88.9 L377.2,86.9 L377.7,85.0 L378.2,82.6 L378.8,79.8 L379.4,76.9 L379.9,74.1 L380.4,71.7 L381.0,70.0 L381.7,68.8 L382.2,69.1 L382.7,70.0 L383.2,73.1 L383.8,78.8 L384.3,85.0 L384.9,93.4 L385.5,100.0 L386.4,102.9 L386.9,103.2 L387.5,103.3 L388.0,103.4 L388.5,103.4 L389.0,103.4 L389.5,103.4 L390.0,103.4 L390.5,103.4 L391.0,103.4 L391.5,103.4 L392.0,103.4 L392.5,103.4 L393.0,103.4 L393.5,103.4 L394.0,103.4 L394.5,103.4 L395.0,103.4 L395.5,103.4 L396.0,103.4 L396.5,103.4 L397.0,103.4 L397.5,103.4 L398.0,103.4 L398.5,103.4 L399.0,103.4 L399.5,103.4 L400.0,103.4 L400.5,103.4 L401.0,103.4 L401.5,103.4 L402.0,103.4 L402.5,103.4 L403.0,103.4 L403.5,103.4 L404.0,103.4 L404.5,103.4 L405.0,103.4 L405.5,103.4 L406.0,103.4 L406.5,103.4 L407.0,103.4 L407.5,103.4 L408.0,103.4 L408.5,103.4 L409.0,103.4 L409.5,103.4 L410.0,103.4 L410.5,103.4 L411.0,103.4 L411.5,103.4 L412.0,103.4 L412.5,103.4 L413.0,103.4 L413.5,103.4 L414.0,103.4" fill="none" stroke="#5ac49e" stroke-width="1.0" stroke-linejoin="round"/>
<path d="M323.0,140.9 L323.5,140.9 L324.0,140.9 L324.5,140.9 L325.0,140.8 L325.5,140.8 L326.0,140.8 L326.5,140.8 L327.0,140.8 L327.5,140.8 L328.0,140.8 L328.5,140.7 L329.0,140.7 L329.5,140.7 L330.0,140.7 L330.5,140.7 L331.0,140.7 L331.5,140.7 L332.0,140.6 L332.5,140.6 L333.0,140.6 L333.5,140.6 L334.0,140.6 L334.5,140.6 L335.0,140.5 L335.5,140.5 L336.0,140.5 L336.5,140.5 L337.0,140.5 L337.5,140.5 L338.0,140.5 L338.5,140.4 L339.0,140.4 L339.5,140.4 L340.0,140.4 L340.5,140.4 L341.0,140.4 L341.5,140.3 L342.0,140.3 L342.5,140.3 L343.0,140.3 L343.5,140.3 L344.0,140.2 L344.5,140.2 L345.0,140.2 L345.5,140.2 L346.0,140.2 L346.5,140.1 L347.0,140.1 L347.5,140.1 L348.0,140.1 L348.5,140.0 L349.0,140.0 L349.5,140.0 L350.0,140.0 L350.5,139.9 L351.0,139.9 L351.5,139.9 L352.0,139.9 L352.5,139.8 L353.0,139.8 L353.5,139.8 L354.0,139.7 L354.5,139.7 L355.0,139.7 L355.5,139.6 L356.0,139.6 L356.5,139.6 L357.0,139.5 L357.5,139.5 L358.0,139.5 L358.5,139.4 L359.0,139.4 L359.5,139.3 L360.0,139.3 L360.5,139.3 L361.0,139.2 L361.5,139.2 L362.0,139.2 L362.6,139.1 L363.1,139.1 L363.6,139.1 L364.1,139.0 L364.6,139.0 L365.1,139.0 L365.6,138.9 L366.1,138.9 L366.6,138.8 L367.1,138.8 L367.7,138.8 L368.2,138.7 L368.7,138.7 L369.2,138.6 L369.7,138.5 L370.2,138.5 L370.7,138.4 L371.2,138.3 L371.7,138.2 L372.2,138.1 L372.8,138.0 L373.3,137.9 L373.8,137.8 L374.3,137.6 L374.8,137.5 L375.3,137.0 L375.8,135.7 L376.3,133.9 L376.9,131.6 L377.4,129.1 L377.9,126.4 L378.4,123.7 L378.9,121.1 L379.4,118.2 L379.9,114.8 L380.4,111.3 L380.9,108.3 L381.4,106.3 L382.0,104.7 L382.6,104.0 L383.2,105.5 L383.7,108.9 L384.3,113.0 L384.8,116.9 L385.3,122.0 L385.9,132.0 L386.4,139.3 L386.9,140.1 L387.5,140.4 L388.0,140.4 L388.5,140.4 L389.0,140.4 L389.5,140.4 L390.0,140.4 L390.5,140.4 L391.0,140.4 L391.5,140.4 L392.0,140.4 L392.5,140.4 L393.0,140.4 L393.5,140.4 L394.0,140.5 L394.5,140.5 L395.0,140.5 L395.5,140.5 L396.0,140.5 L396.5,140.5 L397.0,140.5 L397.5,140.5 L398.0,140.5 L398.5,140.5 L399.0,140.5 L399.5,140.5 L400.0,140.5 L400.5,140.5 L401.0,140.5 L401.5,140.5 L402.0,140.5 L402.5,140.5 L403.0,140.5 L403.5,140.5 L404.0,140.5 L404.5,140.5 L405.0,140.5 L405.5,140.5 L406.0,140.5 L406.5,140.5 L407.0,140.5 L407.5,140.5 L408.0,140.5 L408.5,140.5 L409.0,140.5 L409.5,140.5 L410.0,140.5 L410.5,140.5 L411.0,140.5 L411.5,140.5 L412.0,140.5 L412.5,140.5 L413.0,140.5 L413.5,140.5 L414.0,140.5" fill="none" stroke="#4e62c8" stroke-width="1.0" stroke-linejoin="round"/>
<rect x="322.5" y="18.2" width="92.0" height="132.10000000000002" fill="none" stroke="#7a7a7a" stroke-width="1.15"/>
<line x1="332.10" y1="150.3" x2="332.10" y2="147.70" stroke="#5a5a5a" stroke-width="0.85"/>
<line x1="338.12" y1="150.3" x2="338.12" y2="147.70" stroke="#5a5a5a" stroke-width="0.85"/>
<line x1="342.39" y1="150.3" x2="342.39" y2="147.70" stroke="#5a5a5a" stroke-width="0.85"/>
<line x1="345.70" y1="150.3" x2="345.70" y2="147.70" stroke="#5a5a5a" stroke-width="0.85"/>
<line x1="348.41" y1="150.3" x2="348.41" y2="147.70" stroke="#5a5a5a" stroke-width="0.85"/>
<line x1="350.70" y1="150.3" x2="350.70" y2="147.70" stroke="#5a5a5a" stroke-width="0.85"/>
<line x1="352.69" y1="150.3" x2="352.69" y2="147.70" stroke="#5a5a5a" stroke-width="0.85"/>
<line x1="354.44" y1="150.3" x2="354.44" y2="147.70" stroke="#5a5a5a" stroke-width="0.85"/>
<line x1="366.30" y1="150.3" x2="366.30" y2="147.70" stroke="#5a5a5a" stroke-width="0.85"/>
<line x1="372.32" y1="150.3" x2="372.32" y2="147.70" stroke="#5a5a5a" stroke-width="0.85"/>
<line x1="376.59" y1="150.3" x2="376.59" y2="147.70" stroke="#5a5a5a" stroke-width="0.85"/>
<line x1="379.90" y1="150.3" x2="379.90" y2="147.70" stroke="#5a5a5a" stroke-width="0.85"/>
<line x1="382.61" y1="150.3" x2="382.61" y2="147.70" stroke="#5a5a5a" stroke-width="0.85"/>
<line x1="384.90" y1="150.3" x2="384.90" y2="147.70" stroke="#5a5a5a" stroke-width="0.85"/>
<line x1="386.89" y1="150.3" x2="386.89" y2="147.70" stroke="#5a5a5a" stroke-width="0.85"/>
<line x1="388.64" y1="150.3" x2="388.64" y2="147.70" stroke="#5a5a5a" stroke-width="0.85"/>
<line x1="400.50" y1="150.3" x2="400.50" y2="147.70" stroke="#5a5a5a" stroke-width="0.85"/>
<line x1="406.52" y1="150.3" x2="406.52" y2="147.70" stroke="#5a5a5a" stroke-width="0.85"/>
<line x1="410.79" y1="150.3" x2="410.79" y2="147.70" stroke="#5a5a5a" stroke-width="0.85"/>
<text x="323.70" y="13.50" font-size="13" text-anchor="start" font-weight="bold" fill="#1a1a1a" stroke="#1a1a1a" style="stroke-width:0.1px">(d)</text>
<text transform="translate(327.80,34.30) scale(1,1.1)" font-size="13" text-anchor="start" font-weight="normal" fill="#1a1a1a" stroke="#1a1a1a" >LC3-50 1:1</text>
<text transform="translate(322.50,163.00) scale(1,1.1)" font-size="8" text-anchor="middle" font-weight="normal" fill="#1a1a1a" stroke="#1a1a1a" >0.1</text>
<text transform="translate(356.00,163.00) scale(1,1.1)" font-size="8" text-anchor="middle" font-weight="normal" fill="#1a1a1a" stroke="#1a1a1a" >1</text>
<text transform="translate(390.20,163.00) scale(1,1.1)" font-size="8" text-anchor="middle" font-weight="normal" fill="#1a1a1a" stroke="#1a1a1a" >10</text>
<text transform="translate(368.50,174.8) scale(1,1.15)" font-size="8.5" text-anchor="middle" fill="#1a1a1a" stroke="#1a1a1a">T<tspan font-size="6.3" dy="1.6">2</tspan><tspan dy="-1.6"> (ms)</tspan></text>
<rect x="449.3" y="19.6" width="25.60" height="127.10000000000002" fill="#ebebeb"/>
<rect x="474.9" y="19.6" width="26.10" height="127.10000000000002" fill="#bfbfbf"/>
<line x1="421.5" y1="37.07" x2="512.5" y2="37.07" stroke="#d9d9d9" stroke-width="0.9"/>
<line x1="421.5" y1="55.94" x2="512.5" y2="55.94" stroke="#d9d9d9" stroke-width="0.9"/>
<line x1="421.5" y1="74.81" x2="512.5" y2="74.81" stroke="#d9d9d9" stroke-width="0.9"/>
<line x1="421.5" y1="93.69" x2="512.5" y2="93.69" stroke="#d9d9d9" stroke-width="0.9"/>
<line x1="421.5" y1="112.56" x2="512.5" y2="112.56" stroke="#d9d9d9" stroke-width="0.9"/>
<line x1="421.5" y1="131.43" x2="512.5" y2="131.43" stroke="#d9d9d9" stroke-width="0.9"/>
<line x1="454.6" y1="18.2" x2="454.6" y2="150.3" stroke="#d9d9d9" stroke-width="0.9"/>
<line x1="488.3" y1="18.2" x2="488.3" y2="150.3" stroke="#d9d9d9" stroke-width="0.9"/>
<path d="M422.0,65.4 L422.5,65.4 L423.0,65.4 L423.5,65.4 L424.0,65.3 L424.5,65.3 L425.0,65.3 L425.5,65.3 L426.0,65.3 L426.5,65.3 L427.0,65.3 L427.5,65.2 L428.0,65.2 L428.5,65.2 L429.0,65.2 L429.5,65.2 L430.0,65.2 L430.5,65.2 L431.0,65.1 L431.5,65.1 L432.0,65.1 L432.5,65.1 L433.0,65.1 L433.5,65.1 L434.0,65.0 L434.5,65.0 L435.0,65.0 L435.5,65.0 L436.0,65.0 L436.5,65.0 L437.0,65.0 L437.5,64.9 L438.0,64.9 L438.5,64.9 L439.0,64.9 L439.5,64.9 L440.0,64.9 L440.5,64.9 L441.0,64.8 L441.5,64.8 L442.0,64.8 L442.5,64.8 L443.0,64.8 L443.5,64.8 L444.0,64.7 L444.5,64.7 L445.0,64.7 L445.5,64.7 L446.0,64.7 L446.5,64.7 L447.0,64.6 L447.5,64.6 L448.0,64.6 L448.5,64.6 L449.0,64.6 L449.5,64.6 L450.0,64.5 L450.5,64.5 L451.0,64.5 L451.5,64.5 L452.0,64.5 L452.5,64.4 L453.0,64.4 L453.5,64.4 L454.0,64.4 L454.5,64.3 L455.0,64.3 L455.5,64.3 L456.1,64.2 L456.6,64.1 L457.2,64.1 L457.7,64.0 L458.3,63.8 L458.8,63.7 L459.4,63.5 L459.9,63.3 L460.4,62.9 L460.9,62.0 L461.4,60.9 L461.9,59.6 L462.4,58.3 L462.9,56.9 L463.4,55.1 L463.9,53.3 L464.4,51.4 L464.9,49.7 L465.5,47.6 L466.1,45.4 L466.7,43.5 L467.3,42.3 L467.8,41.6 L468.4,41.1 L468.9,40.7 L469.4,40.5 L469.9,40.8 L470.5,41.5 L471.1,42.5 L471.6,43.6 L472.1,45.0 L472.6,46.8 L473.1,49.0 L473.6,51.3 L474.1,53.4 L474.6,55.7 L475.1,58.1 L475.7,60.3 L476.2,62.0 L476.7,63.4 L477.3,64.5 L477.8,65.1 L478.4,65.3 L478.9,65.4 L479.4,65.5 L480.0,65.5 L480.5,65.5 L481.0,65.5 L481.5,65.5 L482.0,65.5 L482.5,65.5 L483.0,65.5 L483.5,65.5 L484.0,65.5 L484.5,65.5 L485.0,65.5 L485.5,65.5 L486.0,65.5 L486.5,65.5 L487.0,65.5 L487.5,65.5 L488.0,65.5 L488.5,65.5 L489.0,65.5 L489.5,65.5 L490.0,65.5 L490.5,65.5 L491.0,65.5 L491.5,65.5 L492.0,65.5 L492.5,65.5 L493.0,65.5 L493.5,65.5 L494.0,65.5 L494.5,65.5 L495.0,65.5 L495.5,65.5 L496.0,65.5 L496.5,65.5 L497.0,65.5 L497.5,65.5 L498.0,65.5 L498.5,65.5 L499.0,65.5 L499.5,65.5 L500.0,65.5 L500.5,65.5 L501.0,65.5 L501.5,65.5 L502.0,65.5 L502.5,65.5 L503.0,65.5 L503.5,65.5 L504.0,65.5 L504.5,65.5 L505.0,65.5 L505.5,65.5 L506.0,65.5 L506.5,65.5 L507.0,65.5 L507.5,65.5 L508.0,65.5 L508.5,65.5 L509.0,65.5 L509.5,65.5 L510.0,65.5 L510.5,65.5 L511.0,65.5 L511.5,65.5 L512.0,65.5" fill="none" stroke="#ed7d31" stroke-width="1.0" stroke-linejoin="round"/>
<path d="M422.0,103.4 L422.5,103.4 L423.0,103.4 L423.5,103.4 L424.0,103.3 L424.5,103.3 L425.0,103.3 L425.5,103.3 L426.0,103.3 L426.5,103.3 L427.0,103.3 L427.5,103.3 L428.0,103.2 L428.5,103.2 L429.0,103.2 L429.5,103.2 L430.0,103.2 L430.5,103.2 L431.0,103.2 L431.5,103.1 L432.0,103.1 L432.5,103.1 L433.0,103.1 L433.5,103.1 L434.0,103.1 L434.5,103.1 L435.0,103.0 L435.5,103.0 L436.0,103.0 L436.5,103.0 L437.0,103.0 L437.5,103.0 L438.0,103.0 L438.5,103.0 L439.0,102.9 L439.5,102.9 L440.0,102.9 L440.5,102.9 L441.0,102.9 L441.5,102.9 L442.0,102.9 L442.5,102.9 L443.0,102.8 L443.5,102.8 L444.0,102.8 L444.5,102.8 L445.0,102.8 L445.5,102.8 L446.0,102.8 L446.5,102.8 L447.0,102.8 L447.5,102.8 L448.0,102.7 L448.5,102.7 L449.0,102.7 L449.5,102.7 L450.0,102.7 L450.5,102.7 L451.0,102.7 L451.5,102.7 L452.0,102.7 L452.5,102.7 L453.0,102.7 L453.5,102.7 L454.0,102.7 L454.5,102.6 L455.0,102.6 L455.5,102.6 L456.0,102.6 L456.5,102.6 L457.0,102.6 L457.5,102.6 L458.0,102.6 L458.5,102.5 L459.0,102.5 L459.5,102.5 L460.0,102.5 L460.5,102.5 L461.0,102.5 L461.5,102.4 L462.0,102.4 L462.6,102.4 L463.1,102.3 L463.6,102.3 L464.1,102.3 L464.6,102.2 L465.1,102.2 L465.6,102.1 L466.1,102.0 L466.6,101.9 L467.1,101.9 L467.6,101.8 L468.2,101.6 L468.7,101.5 L469.2,101.4 L469.7,101.3 L470.2,101.1 L470.8,100.1 L471.3,97.9 L471.9,94.8 L472.5,91.3 L473.0,87.8 L473.6,84.7 L474.2,81.8 L474.7,78.8 L475.3,75.8 L475.8,73.2 L476.4,71.1 L477.0,69.2 L477.6,67.7 L478.2,67.0 L478.8,67.8 L479.4,69.8 L479.9,72.6 L480.5,75.6 L481.1,79.4 L481.6,84.5 L482.1,89.6 L482.7,93.8 L483.3,97.6 L483.9,100.9 L484.5,102.5 L485.0,102.7 L485.5,102.8 L486.0,102.9 L486.5,102.9 L487.0,102.9 L487.5,102.9 L488.0,102.9 L488.5,102.9 L489.0,102.9 L489.5,102.9 L490.0,102.9 L490.5,102.9 L491.0,102.9 L491.5,102.9 L492.0,102.9 L492.5,102.9 L493.0,103.0 L493.5,103.0 L494.0,103.0 L494.5,103.0 L495.0,103.0 L495.5,103.0 L496.0,103.0 L496.5,103.0 L497.0,103.0 L497.5,103.0 L498.0,103.0 L498.5,103.0 L499.0,103.0 L499.5,103.0 L500.0,103.0 L500.5,103.0 L501.0,103.0 L501.5,103.0 L502.0,103.0 L502.5,103.0 L503.0,103.0 L503.5,103.0 L504.0,103.0 L504.5,103.0 L505.0,103.0 L505.5,103.0 L506.0,103.0 L506.5,103.0 L507.0,103.0 L507.5,103.0 L508.0,103.0 L508.5,103.0 L509.0,103.0 L509.5,103.0 L510.0,103.0 L510.5,103.0 L511.0,103.0 L511.5,103.0 L512.0,103.0" fill="none" stroke="#5ac49e" stroke-width="1.0" stroke-linejoin="round"/>
<path d="M422.0,140.5 L422.5,140.5 L423.0,140.5 L423.5,140.5 L424.0,140.4 L424.5,140.4 L425.0,140.4 L425.5,140.4 L426.0,140.4 L426.5,140.4 L427.0,140.3 L427.5,140.3 L428.0,140.3 L428.5,140.3 L429.0,140.3 L429.5,140.3 L430.0,140.3 L430.5,140.2 L431.0,140.2 L431.5,140.2 L432.0,140.2 L432.5,140.2 L433.0,140.2 L433.5,140.2 L434.0,140.1 L434.5,140.1 L435.0,140.1 L435.5,140.1 L436.0,140.1 L436.5,140.1 L437.0,140.0 L437.5,140.0 L438.0,140.0 L438.5,140.0 L439.0,140.0 L439.5,140.0 L440.0,140.0 L440.5,139.9 L441.0,139.9 L441.5,139.9 L442.0,139.9 L442.5,139.9 L443.0,139.9 L443.5,139.8 L444.0,139.8 L444.5,139.8 L445.0,139.8 L445.5,139.8 L446.0,139.8 L446.5,139.8 L447.0,139.7 L447.5,139.7 L448.0,139.7 L448.5,139.7 L449.0,139.7 L449.5,139.7 L450.0,139.7 L450.5,139.6 L451.0,139.6 L451.5,139.6 L452.0,139.6 L452.5,139.6 L453.0,139.6 L453.5,139.6 L454.0,139.5 L454.5,139.5 L455.0,139.5 L455.5,139.5 L456.0,139.5 L456.5,139.5 L457.0,139.4 L457.5,139.4 L458.0,139.4 L458.5,139.4 L459.0,139.3 L459.5,139.3 L460.0,139.3 L460.5,139.3 L461.0,139.2 L461.6,139.2 L462.1,139.2 L462.6,139.2 L463.1,139.1 L463.6,139.1 L464.1,139.1 L464.7,139.1 L465.2,139.0 L465.7,139.0 L466.2,138.9 L466.7,138.9 L467.3,138.8 L467.8,138.8 L468.3,138.7 L468.8,138.6 L469.3,138.5 L469.8,138.4 L470.4,138.3 L470.9,138.2 L471.4,138.1 L472.0,137.3 L472.5,135.4 L473.1,132.8 L473.7,129.6 L474.2,126.4 L474.8,123.4 L475.4,120.2 L475.9,116.6 L476.4,113.3 L477.0,110.9 L477.5,109.3 L478.1,108.0 L478.6,107.5 L479.2,108.4 L479.8,110.6 L480.3,113.5 L480.9,116.5 L481.5,120.2 L482.0,124.7 L482.6,129.1 L483.2,132.5 L483.8,134.9 L484.4,137.1 L484.9,138.8 L485.5,139.7 L486.0,140.1 L486.5,140.3 L487.0,140.4 L487.5,140.4 L488.0,140.4 L488.5,140.4 L489.0,140.4 L489.5,140.4 L490.0,140.4 L490.5,140.4 L491.0,140.4 L491.5,140.4 L492.0,140.4 L492.5,140.4 L493.0,140.4 L493.5,140.5 L494.0,140.5 L494.5,140.5 L495.0,140.5 L495.5,140.5 L496.0,140.5 L496.5,140.5 L497.0,140.5 L497.5,140.5 L498.0,140.5 L498.5,140.5 L499.0,140.5 L499.5,140.5 L500.0,140.5 L500.5,140.5 L501.0,140.5 L501.5,140.5 L502.0,140.5 L502.5,140.5 L503.0,140.5 L503.5,140.5 L504.0,140.5 L504.5,140.5 L505.0,140.5 L505.5,140.5 L506.0,140.5 L506.5,140.5 L507.0,140.5 L507.5,140.5 L508.0,140.5 L508.5,140.5 L509.0,140.5 L509.5,140.5 L510.0,140.5 L510.5,140.5 L511.0,140.5 L511.5,140.5 L512.0,140.5" fill="none" stroke="#4e62c8" stroke-width="1.0" stroke-linejoin="round"/>
<rect x="421.5" y="18.2" width="91.0" height="132.10000000000002" fill="none" stroke="#7a7a7a" stroke-width="1.15"/>
<line x1="431.04" y1="150.3" x2="431.04" y2="147.70" stroke="#5a5a5a" stroke-width="0.85"/>
<line x1="436.98" y1="150.3" x2="436.98" y2="147.70" stroke="#5a5a5a" stroke-width="0.85"/>
<line x1="441.19" y1="150.3" x2="441.19" y2="147.70" stroke="#5a5a5a" stroke-width="0.85"/>
<line x1="444.46" y1="150.3" x2="444.46" y2="147.70" stroke="#5a5a5a" stroke-width="0.85"/>
<line x1="447.12" y1="150.3" x2="447.12" y2="147.70" stroke="#5a5a5a" stroke-width="0.85"/>
<line x1="449.38" y1="150.3" x2="449.38" y2="147.70" stroke="#5a5a5a" stroke-width="0.85"/>
<line x1="451.33" y1="150.3" x2="451.33" y2="147.70" stroke="#5a5a5a" stroke-width="0.85"/>
<line x1="453.06" y1="150.3" x2="453.06" y2="147.70" stroke="#5a5a5a" stroke-width="0.85"/>
<line x1="464.74" y1="150.3" x2="464.74" y2="147.70" stroke="#5a5a5a" stroke-width="0.85"/>
<line x1="470.68" y1="150.3" x2="470.68" y2="147.70" stroke="#5a5a5a" stroke-width="0.85"/>
<line x1="474.89" y1="150.3" x2="474.89" y2="147.70" stroke="#5a5a5a" stroke-width="0.85"/>
<line x1="478.16" y1="150.3" x2="478.16" y2="147.70" stroke="#5a5a5a" stroke-width="0.85"/>
<line x1="480.82" y1="150.3" x2="480.82" y2="147.70" stroke="#5a5a5a" stroke-width="0.85"/>
<line x1="483.08" y1="150.3" x2="483.08" y2="147.70" stroke="#5a5a5a" stroke-width="0.85"/>
<line x1="485.03" y1="150.3" x2="485.03" y2="147.70" stroke="#5a5a5a" stroke-width="0.85"/>
<line x1="486.76" y1="150.3" x2="486.76" y2="147.70" stroke="#5a5a5a" stroke-width="0.85"/>
<line x1="498.44" y1="150.3" x2="498.44" y2="147.70" stroke="#5a5a5a" stroke-width="0.85"/>
<line x1="504.38" y1="150.3" x2="504.38" y2="147.70" stroke="#5a5a5a" stroke-width="0.85"/>
<line x1="508.59" y1="150.3" x2="508.59" y2="147.70" stroke="#5a5a5a" stroke-width="0.85"/>
<text x="425.20" y="13.50" font-size="13" text-anchor="start" font-weight="bold" fill="#1a1a1a" stroke="#1a1a1a" style="stroke-width:0.1px">(e)</text>
<text transform="translate(426.80,34.30) scale(1,1.1)" font-size="13" text-anchor="start" font-weight="normal" fill="#1a1a1a" stroke="#1a1a1a" >LC3-70 2:1</text>
<text transform="translate(421.50,163.00) scale(1,1.1)" font-size="8" text-anchor="middle" font-weight="normal" fill="#1a1a1a" stroke="#1a1a1a" >0.1</text>
<text transform="translate(454.60,163.00) scale(1,1.1)" font-size="8" text-anchor="middle" font-weight="normal" fill="#1a1a1a" stroke="#1a1a1a" >1</text>
<text transform="translate(488.30,163.00) scale(1,1.1)" font-size="8" text-anchor="middle" font-weight="normal" fill="#1a1a1a" stroke="#1a1a1a" >10</text>
<text transform="translate(467.00,174.8) scale(1,1.15)" font-size="8.5" text-anchor="middle" fill="#1a1a1a" stroke="#1a1a1a">T<tspan font-size="6.3" dy="1.6">2</tspan><tspan dy="-1.6"> (ms)</tspan></text>
<rect x="550.2" y="19.6" width="25.90" height="127.10000000000002" fill="#ebebeb"/>
<rect x="576.1" y="19.6" width="25.60" height="127.10000000000002" fill="#bfbfbf"/>
<line x1="521.5" y1="37.07" x2="613.5" y2="37.07" stroke="#d9d9d9" stroke-width="0.9"/>
<line x1="521.5" y1="55.94" x2="613.5" y2="55.94" stroke="#d9d9d9" stroke-width="0.9"/>
<line x1="521.5" y1="74.81" x2="613.5" y2="74.81" stroke="#d9d9d9" stroke-width="0.9"/>
<line x1="521.5" y1="93.69" x2="613.5" y2="93.69" stroke="#d9d9d9" stroke-width="0.9"/>
<line x1="521.5" y1="112.56" x2="613.5" y2="112.56" stroke="#d9d9d9" stroke-width="0.9"/>
<line x1="521.5" y1="131.43" x2="613.5" y2="131.43" stroke="#d9d9d9" stroke-width="0.9"/>
<line x1="555.3" y1="18.2" x2="555.3" y2="150.3" stroke="#d9d9d9" stroke-width="0.9"/>
<line x1="589.3" y1="18.2" x2="589.3" y2="150.3" stroke="#d9d9d9" stroke-width="0.9"/>
<path d="M522.0,65.5 L522.5,65.4 L523.0,65.3 L523.5,65.3 L524.0,65.2 L524.6,65.1 L525.1,65.0 L525.6,65.0 L526.1,64.9 L526.6,64.8 L527.1,64.7 L527.6,64.7 L528.1,64.6 L528.7,64.5 L529.2,64.4 L529.7,64.4 L530.2,64.3 L530.7,64.2 L531.2,64.1 L531.7,64.1 L532.2,64.0 L532.8,63.9 L533.3,63.8 L533.8,63.8 L534.3,63.7 L534.8,63.6 L535.3,63.5 L535.8,63.4 L536.3,63.4 L536.9,63.3 L537.4,63.2 L537.9,63.2 L538.4,63.1 L538.9,63.0 L539.4,62.9 L540.0,62.9 L540.5,62.8 L541.0,62.7 L541.5,62.6 L542.0,62.6 L542.5,62.5 L543.1,62.4 L543.6,62.3 L544.1,62.2 L544.6,62.1 L545.1,62.0 L545.6,61.9 L546.2,61.8 L546.7,61.7 L547.2,61.6 L547.7,61.5 L548.2,61.3 L548.8,61.2 L549.3,60.9 L549.8,60.7 L550.4,60.6 L550.9,60.4 L551.4,60.3 L552.0,60.2 L552.5,60.1 L553.0,59.9 L553.5,59.5 L554.1,59.0 L554.6,58.4 L555.1,57.8 L555.6,57.1 L556.2,56.5 L556.7,55.9 L557.2,55.3 L557.7,54.7 L558.3,54.1 L558.8,53.5 L559.3,52.9 L559.9,52.3 L560.4,51.8 L560.9,51.3 L561.5,50.8 L562.0,50.5 L562.5,50.2 L563.1,49.9 L563.6,49.6 L564.2,49.4 L564.8,49.3 L565.3,49.2 L565.9,49.3 L566.4,49.6 L567.0,50.1 L567.6,50.6 L568.1,51.3 L568.7,51.9 L569.3,52.6 L569.8,53.6 L570.4,54.6 L570.9,55.8 L571.5,57.0 L572.0,58.1 L572.6,59.2 L573.2,60.3 L573.7,61.5 L574.3,62.7 L574.8,63.5 L575.4,64.0 L575.9,64.2 L576.4,64.3 L577.0,64.4 L577.5,64.5 L578.0,64.5 L578.5,64.5 L579.0,64.6 L579.5,64.6 L580.0,64.6 L580.5,64.7 L581.0,64.7 L581.5,64.7 L582.0,64.7 L582.5,64.8 L583.0,64.8 L583.5,64.8 L584.0,64.8 L584.5,64.8 L585.0,64.9 L585.5,64.9 L586.0,64.9 L586.5,64.9 L587.0,64.9 L587.5,64.9 L588.0,64.9 L588.5,65.0 L589.0,65.0 L589.5,65.0 L590.0,65.0 L590.5,65.0 L591.0,65.0 L591.5,65.0 L592.0,65.0 L592.5,65.1 L593.0,65.1 L593.5,65.1 L594.0,65.1 L594.5,65.1 L595.0,65.1 L595.5,65.1 L596.0,65.1 L596.5,65.1 L597.0,65.1 L597.5,65.2 L598.0,65.2 L598.5,65.2 L599.0,65.2 L599.5,65.2 L600.0,65.2 L600.5,65.2 L601.0,65.2 L601.5,65.2 L602.0,65.2 L602.5,65.2 L603.0,65.2 L603.5,65.3 L604.0,65.3 L604.5,65.3 L605.0,65.3 L605.5,65.3 L606.0,65.3 L606.5,65.3 L607.0,65.3 L607.5,65.3 L608.0,65.3 L608.5,65.3 L609.0,65.3 L609.5,65.3 L610.0,65.4 L610.5,65.4 L611.0,65.4 L611.5,65.4 L612.0,65.4 L612.5,65.4 L613.0,65.4" fill="none" stroke="#ed7d31" stroke-width="1.0" stroke-linejoin="round"/>
<path d="M522.0,103.1 L522.5,103.0 L523.0,103.0 L523.5,102.9 L524.0,102.8 L524.6,102.8 L525.1,102.7 L525.6,102.6 L526.1,102.6 L526.6,102.5 L527.1,102.4 L527.6,102.3 L528.1,102.3 L528.7,102.2 L529.2,102.1 L529.7,102.1 L530.2,102.0 L530.7,101.9 L531.2,101.9 L531.7,101.8 L532.2,101.7 L532.8,101.7 L533.3,101.6 L533.8,101.5 L534.3,101.5 L534.8,101.4 L535.3,101.3 L535.8,101.3 L536.3,101.2 L536.9,101.2 L537.4,101.1 L537.9,101.0 L538.4,101.0 L538.9,100.9 L539.4,100.9 L540.0,100.8 L540.5,100.8 L541.0,100.7 L541.5,100.7 L542.0,100.6 L542.5,100.6 L543.1,100.5 L543.6,100.4 L544.1,100.4 L544.6,100.3 L545.1,100.2 L545.6,100.2 L546.2,100.1 L546.7,100.0 L547.2,99.9 L547.7,99.8 L548.2,99.7 L548.7,99.6 L549.3,99.5 L549.8,99.3 L550.3,99.2 L550.8,99.0 L551.3,98.8 L551.8,98.6 L552.4,98.4 L552.9,98.2 L553.4,97.9 L553.9,97.6 L554.5,97.1 L555.0,96.6 L555.5,96.0 L556.1,95.4 L556.6,94.7 L557.1,94.0 L557.7,93.3 L558.2,92.7 L558.7,92.0 L559.3,91.3 L559.8,90.5 L560.4,89.8 L560.9,89.1 L561.5,88.4 L562.0,87.9 L562.6,87.4 L563.2,86.9 L563.7,86.4 L564.3,86.1 L564.9,86.0 L565.4,86.1 L566.0,86.5 L566.5,87.0 L567.1,87.6 L567.6,88.3 L568.2,89.1 L568.7,89.8 L569.3,90.7 L569.8,91.7 L570.4,92.9 L570.9,94.2 L571.5,95.4 L572.0,96.5 L572.6,97.5 L573.2,98.4 L573.7,99.3 L574.3,100.1 L574.9,100.9 L575.4,101.4 L576.0,101.7 L576.5,101.8 L577.0,101.9 L577.5,102.0 L578.0,102.1 L578.5,102.2 L579.0,102.2 L579.5,102.3 L580.0,102.3 L580.5,102.3 L581.0,102.3 L581.5,102.3 L582.0,102.3 L582.5,102.4 L583.0,102.4 L583.5,102.4 L584.0,102.4 L584.5,102.4 L585.0,102.4 L585.5,102.4 L586.0,102.4 L586.5,102.4 L587.0,102.4 L587.5,102.4 L588.0,102.4 L588.5,102.4 L589.0,102.4 L589.5,102.5 L590.0,102.5 L590.5,102.5 L591.0,102.5 L591.5,102.5 L592.0,102.5 L592.5,102.5 L593.0,102.5 L593.5,102.5 L594.0,102.5 L594.5,102.5 L595.0,102.5 L595.5,102.5 L596.0,102.5 L596.5,102.5 L597.0,102.5 L597.5,102.5 L598.0,102.5 L598.5,102.5 L599.0,102.5 L599.5,102.5 L600.0,102.5 L600.5,102.5 L601.0,102.5 L601.5,102.5 L602.0,102.5 L602.5,102.5 L603.0,102.5 L603.5,102.5 L604.0,102.5 L604.5,102.5 L605.0,102.5 L605.5,102.5 L606.0,102.6 L606.5,102.6 L607.0,102.6 L607.5,102.6 L608.0,102.6 L608.5,102.6 L609.0,102.6 L609.5,102.6 L610.0,102.6 L610.5,102.6 L611.0,102.6 L611.5,102.6 L612.0,102.6 L612.5,102.6 L613.0,102.6" fill="none" stroke="#5ac49e" stroke-width="1.0" stroke-linejoin="round"/>
<path d="M522.0,140.9 L522.5,140.9 L523.0,140.8 L523.5,140.8 L524.0,140.7 L524.6,140.7 L525.1,140.6 L525.6,140.6 L526.1,140.5 L526.6,140.5 L527.1,140.4 L527.6,140.4 L528.1,140.3 L528.7,140.3 L529.2,140.2 L529.7,140.2 L530.2,140.1 L530.7,140.1 L531.2,140.0 L531.7,140.0 L532.2,139.9 L532.8,139.9 L533.3,139.8 L533.8,139.8 L534.3,139.7 L534.8,139.7 L535.3,139.7 L535.8,139.6 L536.3,139.6 L536.8,139.5 L537.3,139.5 L537.8,139.5 L538.3,139.4 L538.8,139.4 L539.3,139.4 L539.8,139.4 L540.3,139.3 L540.8,139.3 L541.3,139.3 L541.8,139.2 L542.3,139.2 L542.9,139.2 L543.4,139.1 L543.9,139.1 L544.4,139.1 L544.9,139.0 L545.4,139.0 L545.9,138.9 L546.4,138.9 L546.9,138.8 L547.4,138.7 L547.9,138.7 L548.4,138.6 L548.9,138.5 L549.4,138.4 L549.9,138.3 L550.4,138.1 L551.0,137.7 L551.5,137.1 L552.1,136.4 L552.6,135.7 L553.2,134.9 L553.8,134.2 L554.3,133.6 L554.8,133.0 L555.4,132.5 L555.9,131.9 L556.5,131.3 L557.0,130.7 L557.5,130.2 L558.1,129.6 L558.6,129.1 L559.2,128.6 L559.7,128.1 L560.2,127.6 L560.8,127.1 L561.4,126.6 L561.9,126.2 L562.5,125.9 L563.0,125.6 L563.5,125.4 L564.0,125.3 L564.5,125.1 L565.0,125.1 L565.5,125.2 L566.1,125.5 L566.6,125.9 L567.2,126.4 L567.8,126.9 L568.3,127.5 L568.8,128.2 L569.3,129.0 L569.8,130.0 L570.3,131.1 L570.8,132.2 L571.3,133.2 L571.8,134.1 L572.3,135.0 L572.9,135.9 L573.5,136.7 L574.0,137.5 L574.5,138.1 L575.1,138.7 L575.6,139.2 L576.2,139.7 L576.8,140.0 L577.3,140.2 L577.8,140.2 L578.3,140.3 L578.8,140.3 L579.3,140.3 L579.8,140.3 L580.3,140.3 L580.9,140.4 L581.4,140.4 L581.9,140.4 L582.4,140.4 L582.9,140.4 L583.4,140.4 L583.9,140.4 L584.4,140.5 L584.9,140.5 L585.4,140.5 L585.9,140.5 L586.4,140.5 L587.0,140.5 L587.5,140.5 L588.0,140.5 L588.5,140.5 L589.0,140.5 L589.5,140.5 L590.0,140.5 L590.5,140.5 L591.0,140.5 L591.5,140.5 L592.0,140.5 L592.5,140.5 L593.0,140.5 L593.5,140.5 L594.0,140.5 L594.5,140.5 L595.0,140.5 L595.5,140.5 L596.0,140.5 L596.5,140.5 L597.0,140.5 L597.5,140.5 L598.0,140.5 L598.5,140.5 L599.0,140.5 L599.5,140.5 L600.0,140.5 L600.5,140.5 L601.0,140.5 L601.5,140.5 L602.0,140.5 L602.5,140.5 L603.0,140.5 L603.5,140.5 L604.0,140.5 L604.5,140.5 L605.0,140.5 L605.5,140.5 L606.0,140.5 L606.5,140.5 L607.0,140.5 L607.5,140.5 L608.0,140.5 L608.5,140.5 L609.0,140.5 L609.5,140.5 L610.0,140.5 L610.5,140.5 L611.0,140.5 L611.5,140.5 L612.0,140.5 L612.5,140.5 L613.0,140.5" fill="none" stroke="#4e62c8" stroke-width="1.0" stroke-linejoin="round"/>
<rect x="521.5" y="18.2" width="92.0" height="132.10000000000002" fill="none" stroke="#7a7a7a" stroke-width="1.15"/>
<line x1="531.54" y1="150.3" x2="531.54" y2="147.70" stroke="#5a5a5a" stroke-width="0.85"/>
<line x1="537.52" y1="150.3" x2="537.52" y2="147.70" stroke="#5a5a5a" stroke-width="0.85"/>
<line x1="541.77" y1="150.3" x2="541.77" y2="147.70" stroke="#5a5a5a" stroke-width="0.85"/>
<line x1="545.06" y1="150.3" x2="545.06" y2="147.70" stroke="#5a5a5a" stroke-width="0.85"/>
<line x1="547.76" y1="150.3" x2="547.76" y2="147.70" stroke="#5a5a5a" stroke-width="0.85"/>
<line x1="550.03" y1="150.3" x2="550.03" y2="147.70" stroke="#5a5a5a" stroke-width="0.85"/>
<line x1="552.01" y1="150.3" x2="552.01" y2="147.70" stroke="#5a5a5a" stroke-width="0.85"/>
<line x1="553.74" y1="150.3" x2="553.74" y2="147.70" stroke="#5a5a5a" stroke-width="0.85"/>
<line x1="565.54" y1="150.3" x2="565.54" y2="147.70" stroke="#5a5a5a" stroke-width="0.85"/>
<line x1="571.52" y1="150.3" x2="571.52" y2="147.70" stroke="#5a5a5a" stroke-width="0.85"/>
<line x1="575.77" y1="150.3" x2="575.77" y2="147.70" stroke="#5a5a5a" stroke-width="0.85"/>
<line x1="579.06" y1="150.3" x2="579.06" y2="147.70" stroke="#5a5a5a" stroke-width="0.85"/>
<line x1="581.76" y1="150.3" x2="581.76" y2="147.70" stroke="#5a5a5a" stroke-width="0.85"/>
<line x1="584.03" y1="150.3" x2="584.03" y2="147.70" stroke="#5a5a5a" stroke-width="0.85"/>
<line x1="586.01" y1="150.3" x2="586.01" y2="147.70" stroke="#5a5a5a" stroke-width="0.85"/>
<line x1="587.74" y1="150.3" x2="587.74" y2="147.70" stroke="#5a5a5a" stroke-width="0.85"/>
<line x1="599.54" y1="150.3" x2="599.54" y2="147.70" stroke="#5a5a5a" stroke-width="0.85"/>
<line x1="605.52" y1="150.3" x2="605.52" y2="147.70" stroke="#5a5a5a" stroke-width="0.85"/>
<line x1="609.77" y1="150.3" x2="609.77" y2="147.70" stroke="#5a5a5a" stroke-width="0.85"/>
<text x="522.70" y="12.10" font-size="13" text-anchor="start" font-weight="bold" fill="#1a1a1a" stroke="#1a1a1a" style="stroke-width:0.1px">(f)</text>
<text transform="translate(524.50,34.30) scale(1,1.1)" font-size="13" text-anchor="start" font-weight="normal" fill="#1a1a1a" stroke="#1a1a1a" >Calcined clay</text>
<text transform="translate(521.50,163.00) scale(1,1.1)" font-size="8" text-anchor="middle" font-weight="normal" fill="#1a1a1a" stroke="#1a1a1a" >0.1</text>
<text transform="translate(555.30,163.00) scale(1,1.1)" font-size="8" text-anchor="middle" font-weight="normal" fill="#1a1a1a" stroke="#1a1a1a" >1</text>
<text transform="translate(589.30,163.00) scale(1,1.1)" font-size="8" text-anchor="middle" font-weight="normal" fill="#1a1a1a" stroke="#1a1a1a" >10</text>
<text transform="translate(567.50,174.8) scale(1,1.15)" font-size="8.5" text-anchor="middle" fill="#1a1a1a" stroke="#1a1a1a">T<tspan font-size="6.3" dy="1.6">2</tspan><tspan dy="-1.6"> (ms)</tspan></text>
<text transform="translate(25.2,91.6) rotate(-90)" font-size="8.8" text-anchor="middle" fill="#1a1a1a" stroke="#1a1a1a">Intensity (a.u.)</text>
<text x="631.40" y="41.50" font-size="10" text-anchor="start" font-weight="bold" fill="#4a5cc0" stroke="#4a5cc0" >1 hour</text>
<text x="631.40" y="53.40" font-size="10" text-anchor="start" font-weight="bold" fill="#5cc7a0" stroke="#5cc7a0" >2 hours</text>
<text x="631.40" y="65.40" font-size="10" text-anchor="start" font-weight="bold" fill="#f07f3a" stroke="#f07f3a" >5 hours</text>
<rect x="622.9" y="72.6" width="61" height="26.6" fill="#bcbcbc"/>
<rect x="622.9" y="103.3" width="61" height="26.6" fill="#ececec"/>
<text x="653.35" y="83.80" font-size="8.5" text-anchor="middle" font-weight="normal" fill="#222" stroke="#222" textLength="30.6" lengthAdjust="spacingAndGlyphs" style="stroke-width:0.05px">Capillary</text>
<text x="653.30" y="93.90" font-size="8.5" text-anchor="middle" font-weight="normal" fill="#222" stroke="#222" textLength="20.2" lengthAdjust="spacingAndGlyphs" style="stroke-width:0.05px">water</text>
<text x="653.35" y="114.60" font-size="8.5" text-anchor="middle" font-weight="normal" fill="#222" stroke="#222" textLength="43.4" lengthAdjust="spacingAndGlyphs" style="stroke-width:0.05px">Interhydrate</text>
<text x="653.30" y="124.80" font-size="8.5" text-anchor="middle" font-weight="normal" fill="#222" stroke="#222" textLength="20.2" lengthAdjust="spacingAndGlyphs" style="stroke-width:0.05px">water</text>
<line x1="33.5" y1="308.30" x2="236.5" y2="308.30" stroke="#e4e4e4" stroke-width="0.9"/>
<line x1="33.5" y1="283.10" x2="236.5" y2="283.10" stroke="#e4e4e4" stroke-width="0.9"/>
<line x1="33.5" y1="257.90" x2="236.5" y2="257.90" stroke="#e4e4e4" stroke-width="0.9"/>
<line x1="33.5" y1="232.70" x2="236.5" y2="232.70" stroke="#e4e4e4" stroke-width="0.9"/>
<line x1="67.00" y1="207.5" x2="67.00" y2="333.5" stroke="#e4e4e4" stroke-width="0.9"/>
<line x1="100.80" y1="207.5" x2="100.80" y2="333.5" stroke="#e4e4e4" stroke-width="0.9"/>
<line x1="134.60" y1="207.5" x2="134.60" y2="333.5" stroke="#e4e4e4" stroke-width="0.9"/>
<line x1="168.40" y1="207.5" x2="168.40" y2="333.5" stroke="#e4e4e4" stroke-width="0.9"/>
<line x1="202.20" y1="207.5" x2="202.20" y2="333.5" stroke="#e4e4e4" stroke-width="0.9"/>
<rect x="33.5" y="207.5" width="203.0" height="126.0" fill="none" stroke="#7a7a7a" stroke-width="1"/>
<path d="M67.00,216.45 L67.00,227.79 M65.10,216.45 L68.90,216.45 M65.10,227.79 L68.90,227.79" stroke="#8e8e8e" stroke-width="0.9" fill="none"/>
<path d="M100.80,233.58 L100.80,241.14 M98.90,233.58 L102.70,233.58 M98.90,241.14 L102.70,241.14" stroke="#8e8e8e" stroke-width="0.9" fill="none"/>
<path d="M202.20,286.25 L202.20,289.27 M200.30,286.25 L204.10,286.25 M200.30,289.27 L204.10,289.27" stroke="#8e8e8e" stroke-width="0.9" fill="none"/>
<path d="M67.00,224.26 L67.00,235.60 M65.10,224.26 L68.90,224.26 M65.10,235.60 L68.90,235.60" stroke="#8e8e8e" stroke-width="0.9" fill="none"/>
<path d="M100.80,252.86 L100.80,259.16 M98.90,252.86 L102.70,252.86 M98.90,259.16 L102.70,259.16" stroke="#8e8e8e" stroke-width="0.9" fill="none"/>
<path d="M202.20,291.29 L202.20,295.83 M200.30,291.29 L204.10,291.29 M200.30,295.83 L204.10,295.83" stroke="#8e8e8e" stroke-width="0.9" fill="none"/>
<path d="M67.00,303.26 L67.00,305.78 M65.10,303.26 L68.90,303.26 M65.10,305.78 L68.90,305.78" stroke="#8e8e8e" stroke-width="0.9" fill="none"/>
<path d="M100.80,304.52 L100.80,307.04 M98.90,304.52 L102.70,304.52 M98.90,307.04 L102.70,307.04" stroke="#8e8e8e" stroke-width="0.9" fill="none"/>
<path d="M202.20,316.74 L202.20,319.26 M200.30,316.74 L204.10,316.74 M200.30,319.26 L204.10,319.26" stroke="#8e8e8e" stroke-width="0.9" fill="none"/>
<path d="M67.00,281.59 L67.00,287.64 M65.10,281.59 L68.90,281.59 M65.10,287.64 L68.90,287.64" stroke="#8e8e8e" stroke-width="0.9" fill="none"/>
<path d="M100.80,287.89 L100.80,293.43 M98.90,287.89 L102.70,287.89 M98.90,293.43 L102.70,293.43" stroke="#8e8e8e" stroke-width="0.9" fill="none"/>
<path d="M202.20,319.01 L202.20,321.53 M200.30,319.01 L204.10,319.01 M200.30,321.53 L204.10,321.53" stroke="#8e8e8e" stroke-width="0.9" fill="none"/>
<path d="M67.00,263.44 L67.00,270.50 M65.10,263.44 L68.90,263.44 M65.10,270.50 L68.90,270.50" stroke="#8e8e8e" stroke-width="0.9" fill="none"/>
<path d="M100.80,273.65 L100.80,279.19 M98.90,273.65 L102.70,273.65 M98.90,279.19 L102.70,279.19" stroke="#8e8e8e" stroke-width="0.9" fill="none"/>
<path d="M202.20,320.27 L202.20,323.29 M200.30,320.27 L204.10,320.27 M200.30,323.29 L204.10,323.29" stroke="#8e8e8e" stroke-width="0.9" fill="none"/>
<path d="M67.00,222.12 L100.80,237.36 L202.20,287.76" fill="none" stroke="#3c7896" stroke-width="0.85"/>
<path d="M67.00,229.93 L100.80,256.01 L202.20,293.56" fill="none" stroke="#3c7896" stroke-width="0.85"/>
<path d="M67.00,304.52 L100.80,305.78 L202.20,318.00" fill="none" stroke="#4a84a3" stroke-width="0.85"/>
<path d="M67.00,284.61 L100.80,290.66 L202.20,320.27" fill="none" stroke="#7d9cc0" stroke-width="0.85"/>
<path d="M67.00,266.97 L100.80,276.42 L202.20,321.78" fill="none" stroke="#6a7fb0" stroke-width="0.85"/>
<path d="M67.00,331.61 L100.80,332.49" fill="none" stroke="#e87a7a" stroke-width="0.85"/>
<circle cx="67.00" cy="222.12" r="2.2" fill="#174f70"/>
<circle cx="100.80" cy="237.36" r="2.2" fill="#174f70"/>
<circle cx="202.20" cy="287.76" r="2.2" fill="#174f70"/>
<rect x="64.90" y="227.83" width="4.2" height="4.2" fill="#174f70"/>
<rect x="98.70" y="253.91" width="4.2" height="4.2" fill="#174f70"/>
<rect x="200.10" y="291.46" width="4.2" height="4.2" fill="#174f70"/>
<path d="M67.00,302.62 L68.90,304.52 L67.00,306.42 L65.10,304.52Z" fill="#174f70"/>
<path d="M100.80,303.88 L102.70,305.78 L100.80,307.68 L98.90,305.78Z" fill="#174f70"/>
<path d="M202.20,316.10 L204.10,318.00 L202.20,319.90 L200.30,318.00Z" fill="#174f70"/>
<path d="M67.00,282.31 L69.20,286.21 L64.80,286.21Z" fill="#3f6592"/>
<path d="M100.80,288.36 L103.00,292.26 L98.60,292.26Z" fill="#3f6592"/>
<path d="M202.20,317.97 L204.40,321.87 L200.00,321.87Z" fill="#3f6592"/>
<path d="M65.10,265.07 L68.90,268.87 M68.90,265.07 L65.10,268.87" stroke="#34548f" stroke-width="0.9" fill="none"/>
<path d="M98.90,274.52 L102.70,278.32 M102.70,274.52 L98.90,278.32" stroke="#34548f" stroke-width="0.9" fill="none"/>
<path d="M200.30,319.88 L204.10,323.68 M204.10,319.88 L200.30,323.68" stroke="#34548f" stroke-width="0.9" fill="none"/>
<circle cx="67.00" cy="331.61" r="2.2" fill="#fff" stroke="#e0504f" stroke-width="0.9"/>
<circle cx="100.80" cy="332.49" r="2.2" fill="#fff" stroke="#e0504f" stroke-width="0.9"/>
<text x="26.00" y="336.70" font-size="8.9" text-anchor="end" font-weight="normal" fill="#1a1a1a" stroke="#1a1a1a" >0</text>
<text x="26.00" y="311.50" font-size="8.9" text-anchor="end" font-weight="normal" fill="#1a1a1a" stroke="#1a1a1a" >20</text>
<text x="26.00" y="286.30" font-size="8.9" text-anchor="end" font-weight="normal" fill="#1a1a1a" stroke="#1a1a1a" >40</text>
<text x="26.00" y="261.10" font-size="8.9" text-anchor="end" font-weight="normal" fill="#1a1a1a" stroke="#1a1a1a" >60</text>
<text x="26.00" y="235.90" font-size="8.9" text-anchor="end" font-weight="normal" fill="#1a1a1a" stroke="#1a1a1a" >80</text>
<text x="26.00" y="210.70" font-size="8.9" text-anchor="end" font-weight="normal" fill="#1a1a1a" stroke="#1a1a1a" >100</text>
<text x="33.20" y="346.30" font-size="8.9" text-anchor="middle" font-weight="normal" fill="#1a1a1a" stroke="#1a1a1a" >0</text>
<text x="67.00" y="346.30" font-size="8.9" text-anchor="middle" font-weight="normal" fill="#1a1a1a" stroke="#1a1a1a" >1</text>
<text x="100.80" y="346.30" font-size="8.9" text-anchor="middle" font-weight="normal" fill="#1a1a1a" stroke="#1a1a1a" >2</text>
<text x="134.60" y="346.30" font-size="8.9" text-anchor="middle" font-weight="normal" fill="#1a1a1a" stroke="#1a1a1a" >3</text>
<text x="168.40" y="346.30" font-size="8.9" text-anchor="middle" font-weight="normal" fill="#1a1a1a" stroke="#1a1a1a" >4</text>
<text x="202.20" y="346.30" font-size="8.9" text-anchor="middle" font-weight="normal" fill="#1a1a1a" stroke="#1a1a1a" >5</text>
<text x="236.00" y="346.30" font-size="8.9" text-anchor="middle" font-weight="normal" fill="#1a1a1a" stroke="#1a1a1a" >6</text>
<line x1="175.90" y1="219.20" x2="189.70" y2="219.20" stroke="#3c7896" stroke-width="0.85"/>
<circle cx="182.70" cy="219.20" r="2.2" fill="#174f70"/>
<text x="191.10" y="222.20" font-size="8.6" text-anchor="start" font-weight="normal" fill="#1a1a1a" stroke="#1a1a1a" >CEM I</text>
<line x1="175.90" y1="229.20" x2="189.70" y2="229.20" stroke="#3c7896" stroke-width="0.85"/>
<rect x="180.60" y="227.10" width="4.2" height="4.2" fill="#174f70"/>
<text x="191.10" y="232.20" font-size="8.6" text-anchor="start" font-weight="normal" fill="#1a1a1a" stroke="#1a1a1a" >CEM II</text>
<line x1="175.90" y1="239.20" x2="189.70" y2="239.20" stroke="#4a84a3" stroke-width="0.85"/>
<path d="M182.70,237.30 L184.60,239.20 L182.70,241.10 L180.80,239.20Z" fill="#174f70"/>
<text x="191.10" y="242.20" font-size="8.6" text-anchor="start" font-weight="normal" fill="#1a1a1a" stroke="#1a1a1a" >LC3-50 2:1</text>
<line x1="175.90" y1="249.20" x2="189.70" y2="249.20" stroke="#7d9cc0" stroke-width="0.85"/>
<path d="M182.70,246.90 L184.90,250.80 L180.50,250.80Z" fill="#3f6592"/>
<text x="191.10" y="252.20" font-size="8.6" text-anchor="start" font-weight="normal" fill="#1a1a1a" stroke="#1a1a1a" >LC3-50 1:1</text>
<line x1="175.90" y1="259.20" x2="189.70" y2="259.20" stroke="#6a7fb0" stroke-width="0.85"/>
<path d="M180.80,257.30 L184.60,261.10 M184.60,257.30 L180.80,261.10" stroke="#34548f" stroke-width="0.9" fill="none"/>
<text x="191.10" y="262.20" font-size="8.6" text-anchor="start" font-weight="normal" fill="#1a1a1a" stroke="#1a1a1a" >LC3-70 2:1</text>
<line x1="175.90" y1="269.20" x2="189.70" y2="269.20" stroke="#e87a7a" stroke-width="0.85"/>
<circle cx="182.70" cy="269.20" r="2.2" fill="#fff" stroke="#e0504f" stroke-width="0.9"/>
<text x="191.10" y="272.20" font-size="8.6" text-anchor="start" font-weight="normal" fill="#1a1a1a" stroke="#1a1a1a" >CC</text>
<text x="109.40" y="224.60" font-size="8.6" text-anchor="start" font-weight="normal" fill="#1a1a1a" stroke="#1a1a1a" >Calcined clay %</text>
<line x1="135.2" y1="234.5" x2="113.14" y2="313.68" stroke="#111" stroke-width="0.9"/>
<path d="M111.8,318.5 L111.02,313.09 L115.26,314.27Z" fill="#111"/>
<text x="134.60" y="359.30" font-size="8.6" text-anchor="middle" font-weight="normal" fill="#1a1a1a" stroke="#1a1a1a" >Hydration time (h)</text>
<text transform="translate(7.7,270.2) rotate(-90)" font-size="8.6" text-anchor="middle" fill="#1a1a1a" stroke="#1a1a1a" textLength="75" lengthAdjust="spacingAndGlyphs">% of capillary water</text>
<text x="34.20" y="200.80" font-size="13" text-anchor="start" font-weight="bold" fill="#1a1a1a" stroke="#1a1a1a" >(g)</text>
<line x1="269.5" y1="311.50" x2="477.5" y2="311.50" stroke="#e4e4e4" stroke-width="0.9"/>
<line x1="269.5" y1="285.50" x2="477.5" y2="285.50" stroke="#e4e4e4" stroke-width="0.9"/>
<line x1="269.5" y1="259.50" x2="477.5" y2="259.50" stroke="#e4e4e4" stroke-width="0.9"/>
<line x1="269.5" y1="233.50" x2="477.5" y2="233.50" stroke="#e4e4e4" stroke-width="0.9"/>
<line x1="303.57" y1="207.5" x2="303.57" y2="337.5" stroke="#e4e4e4" stroke-width="0.9"/>
<line x1="338.34" y1="207.5" x2="338.34" y2="337.5" stroke="#e4e4e4" stroke-width="0.9"/>
<line x1="373.11" y1="207.5" x2="373.11" y2="337.5" stroke="#e4e4e4" stroke-width="0.9"/>
<line x1="407.88" y1="207.5" x2="407.88" y2="337.5" stroke="#e4e4e4" stroke-width="0.9"/>
<line x1="442.65" y1="207.5" x2="442.65" y2="337.5" stroke="#e4e4e4" stroke-width="0.9"/>
<rect x="269.5" y="207.5" width="208.0" height="130.0" fill="none" stroke="#7a7a7a" stroke-width="1"/>
<path d="M303.57,320.99 L303.57,324.11 M301.67,320.99 L305.47,320.99 M301.67,324.11 L305.47,324.11" stroke="#8e8e8e" stroke-width="0.9" fill="none"/>
<path d="M338.34,305.00 L338.34,308.12 M336.44,305.00 L340.24,305.00 M336.44,308.12 L340.24,308.12" stroke="#8e8e8e" stroke-width="0.9" fill="none"/>
<path d="M442.65,250.14 L442.65,257.94 M440.75,250.14 L444.55,250.14 M440.75,257.94 L444.55,257.94" stroke="#8e8e8e" stroke-width="0.9" fill="none"/>
<path d="M303.57,312.80 L303.57,315.92 M301.67,312.80 L305.47,312.80 M301.67,315.92 L305.47,315.92" stroke="#8e8e8e" stroke-width="0.9" fill="none"/>
<path d="M338.34,284.33 L338.34,290.31 M336.44,284.33 L340.24,284.33 M336.44,290.31 L340.24,290.31" stroke="#8e8e8e" stroke-width="0.9" fill="none"/>
<path d="M442.65,245.46 L442.65,252.22 M440.75,245.46 L444.55,245.46 M440.75,252.22 L444.55,252.22" stroke="#8e8e8e" stroke-width="0.9" fill="none"/>
<path d="M303.57,231.29 L303.57,243.51 M301.67,231.29 L305.47,231.29 M301.67,243.51 L305.47,243.51" stroke="#8e8e8e" stroke-width="0.9" fill="none"/>
<path d="M338.34,228.82 L338.34,242.86 M336.44,228.82 L340.24,228.82 M336.44,242.86 L340.24,242.86" stroke="#8e8e8e" stroke-width="0.9" fill="none"/>
<path d="M442.65,215.04 L442.65,228.56 M440.75,215.04 L444.55,215.04 M440.75,228.56 L444.55,228.56" stroke="#8e8e8e" stroke-width="0.9" fill="none"/>
<path d="M303.57,253.39 L303.57,263.01 M301.67,253.39 L305.47,253.39 M301.67,263.01 L305.47,263.01" stroke="#8e8e8e" stroke-width="0.9" fill="none"/>
<path d="M338.34,245.85 L338.34,257.55 M336.44,245.85 L340.24,245.85 M336.44,257.55 L340.24,257.55" stroke="#8e8e8e" stroke-width="0.9" fill="none"/>
<path d="M442.65,216.60 L442.65,228.30 M440.75,216.60 L444.55,216.60 M440.75,228.30 L444.55,228.30" stroke="#8e8e8e" stroke-width="0.9" fill="none"/>
<path d="M303.57,270.94 L303.57,280.56 M301.67,270.94 L305.47,270.94 M301.67,280.56 L305.47,280.56" stroke="#8e8e8e" stroke-width="0.9" fill="none"/>
<path d="M338.34,261.71 L338.34,271.33 M336.44,261.71 L340.24,261.71 M336.44,271.33 L340.24,271.33" stroke="#8e8e8e" stroke-width="0.9" fill="none"/>
<path d="M442.65,216.21 L442.65,226.61 M440.75,216.21 L444.55,216.21 M440.75,226.61 L444.55,226.61" stroke="#8e8e8e" stroke-width="0.9" fill="none"/>
<path d="M303.57,215.95 L303.57,227.65 M301.67,215.95 L305.47,215.95 M301.67,227.65 L305.47,227.65" stroke="#8e8e8e" stroke-width="0.9" fill="none"/>
<path d="M338.34,214.65 L338.34,226.35 M336.44,214.65 L340.24,214.65 M336.44,226.35 L340.24,226.35" stroke="#8e8e8e" stroke-width="0.9" fill="none"/>
<path d="M303.57,322.55 L338.34,306.56 L442.65,254.04" fill="none" stroke="#3c7896" stroke-width="0.85"/>
<path d="M303.57,314.36 L338.34,287.32 L442.65,248.84" fill="none" stroke="#3c7896" stroke-width="0.85"/>
<path d="M303.57,237.40 L338.34,235.84 L442.65,221.80" fill="none" stroke="#4a84a3" stroke-width="0.85"/>
<path d="M303.57,258.20 L338.34,251.70 L442.65,222.45" fill="none" stroke="#7d9cc0" stroke-width="0.85"/>
<path d="M303.57,275.75 L338.34,266.52 L442.65,221.41" fill="none" stroke="#6a7fb0" stroke-width="0.85"/>
<path d="M303.57,221.80 L338.34,220.50" fill="none" stroke="#e87a7a" stroke-width="0.85"/>
<circle cx="303.57" cy="322.55" r="2.2" fill="#174f70"/>
<circle cx="338.34" cy="306.56" r="2.2" fill="#174f70"/>
<circle cx="442.65" cy="254.04" r="2.2" fill="#174f70"/>
<rect x="301.47" y="312.26" width="4.2" height="4.2" fill="#174f70"/>
<rect x="336.24" y="285.22" width="4.2" height="4.2" fill="#174f70"/>
<rect x="440.55" y="246.74" width="4.2" height="4.2" fill="#174f70"/>
<path d="M303.57,235.50 L305.47,237.40 L303.57,239.30 L301.67,237.40Z" fill="#174f70"/>
<path d="M338.34,233.94 L340.24,235.84 L338.34,237.74 L336.44,235.84Z" fill="#174f70"/>
<path d="M442.65,219.90 L444.55,221.80 L442.65,223.70 L440.75,221.80Z" fill="#174f70"/>
<path d="M303.57,255.90 L305.77,259.80 L301.37,259.80Z" fill="#3f6592"/>
<path d="M338.34,249.40 L340.54,253.30 L336.14,253.30Z" fill="#3f6592"/>
<path d="M442.65,220.15 L444.85,224.05 L440.45,224.05Z" fill="#3f6592"/>
<path d="M301.67,273.85 L305.47,277.65 M305.47,273.85 L301.67,277.65" stroke="#34548f" stroke-width="0.9" fill="none"/>
<path d="M336.44,264.62 L340.24,268.42 M340.24,264.62 L336.44,268.42" stroke="#34548f" stroke-width="0.9" fill="none"/>
<path d="M440.75,219.51 L444.55,223.31 M444.55,219.51 L440.75,223.31" stroke="#34548f" stroke-width="0.9" fill="none"/>
<circle cx="303.57" cy="221.80" r="2.2" fill="#fff" stroke="#e0504f" stroke-width="0.9"/>
<circle cx="338.34" cy="220.50" r="2.2" fill="#fff" stroke="#e0504f" stroke-width="0.9"/>
<text x="261.50" y="340.00" font-size="8.9" text-anchor="end" font-weight="normal" fill="#1a1a1a" stroke="#1a1a1a" >0</text>
<text x="261.50" y="314.00" font-size="8.9" text-anchor="end" font-weight="normal" fill="#1a1a1a" stroke="#1a1a1a" >20</text>
<text x="261.50" y="288.00" font-size="8.9" text-anchor="end" font-weight="normal" fill="#1a1a1a" stroke="#1a1a1a" >40</text>
<text x="261.50" y="262.00" font-size="8.9" text-anchor="end" font-weight="normal" fill="#1a1a1a" stroke="#1a1a1a" >60</text>
<text x="261.50" y="236.00" font-size="8.9" text-anchor="end" font-weight="normal" fill="#1a1a1a" stroke="#1a1a1a" >80</text>
<text x="261.50" y="210.00" font-size="8.9" text-anchor="end" font-weight="normal" fill="#1a1a1a" stroke="#1a1a1a" >100</text>
<text x="268.80" y="350.50" font-size="8.9" text-anchor="middle" font-weight="normal" fill="#1a1a1a" stroke="#1a1a1a" >0</text>
<text x="303.57" y="350.50" font-size="8.9" text-anchor="middle" font-weight="normal" fill="#1a1a1a" stroke="#1a1a1a" >1</text>
<text x="338.34" y="350.50" font-size="8.9" text-anchor="middle" font-weight="normal" fill="#1a1a1a" stroke="#1a1a1a" >2</text>
<text x="373.11" y="350.50" font-size="8.9" text-anchor="middle" font-weight="normal" fill="#1a1a1a" stroke="#1a1a1a" >3</text>
<text x="407.88" y="350.50" font-size="8.9" text-anchor="middle" font-weight="normal" fill="#1a1a1a" stroke="#1a1a1a" >4</text>
<text x="442.65" y="350.50" font-size="8.9" text-anchor="middle" font-weight="normal" fill="#1a1a1a" stroke="#1a1a1a" >5</text>
<text x="477.42" y="350.50" font-size="8.9" text-anchor="middle" font-weight="normal" fill="#1a1a1a" stroke="#1a1a1a" >6</text>
<line x1="413.50" y1="279.90" x2="427.30" y2="279.90" stroke="#3c7896" stroke-width="0.85"/>
<circle cx="420.30" cy="279.90" r="2.2" fill="#174f70"/>
<text x="428.70" y="282.90" font-size="8.6" text-anchor="start" font-weight="normal" fill="#1a1a1a" stroke="#1a1a1a" >CEM I</text>
<line x1="413.50" y1="289.16" x2="427.30" y2="289.16" stroke="#3c7896" stroke-width="0.85"/>
<rect x="418.20" y="287.06" width="4.2" height="4.2" fill="#174f70"/>
<text x="428.70" y="292.16" font-size="8.6" text-anchor="start" font-weight="normal" fill="#1a1a1a" stroke="#1a1a1a" >CEM II</text>
<line x1="413.50" y1="298.42" x2="427.30" y2="298.42" stroke="#4a84a3" stroke-width="0.85"/>
<path d="M420.30,296.52 L422.20,298.42 L420.30,300.32 L418.40,298.42Z" fill="#174f70"/>
<text x="428.70" y="301.42" font-size="8.6" text-anchor="start" font-weight="normal" fill="#1a1a1a" stroke="#1a1a1a" >LC3-50 2:1</text>
<line x1="413.50" y1="307.68" x2="427.30" y2="307.68" stroke="#7d9cc0" stroke-width="0.85"/>
<path d="M420.30,305.38 L422.50,309.28 L418.10,309.28Z" fill="#3f6592"/>
<text x="428.70" y="310.68" font-size="8.6" text-anchor="start" font-weight="normal" fill="#1a1a1a" stroke="#1a1a1a" >LC3-50 1:1</text>
<line x1="413.50" y1="316.94" x2="427.30" y2="316.94" stroke="#6a7fb0" stroke-width="0.85"/>
<path d="M418.40,315.04 L422.20,318.84 M422.20,315.04 L418.40,318.84" stroke="#34548f" stroke-width="0.9" fill="none"/>
<text x="428.70" y="319.94" font-size="8.6" text-anchor="start" font-weight="normal" fill="#1a1a1a" stroke="#1a1a1a" >LC3-70 2:1</text>
<line x1="413.50" y1="326.20" x2="427.30" y2="326.20" stroke="#e87a7a" stroke-width="0.85"/>
<circle cx="420.30" cy="326.20" r="2.2" fill="#fff" stroke="#e0504f" stroke-width="0.9"/>
<text x="428.70" y="329.20" font-size="8.6" text-anchor="start" font-weight="normal" fill="#1a1a1a" stroke="#1a1a1a" >CC</text>
<text x="343.20" y="320.00" font-size="8.6" text-anchor="start" font-weight="normal" fill="#1a1a1a" stroke="#1a1a1a" >Calcined clay %</text>
<line x1="387.8" y1="299.2" x2="366.06" y2="237.22" stroke="#111" stroke-width="0.9"/>
<path d="M364.4,232.5 L368.13,236.49 L363.98,237.95Z" fill="#111"/>
<text x="373.11" y="362.80" font-size="8.6" text-anchor="middle" font-weight="normal" fill="#1a1a1a" stroke="#1a1a1a" >Hydration time (h)</text>
<text transform="translate(248.4,272.4) rotate(-90)" font-size="8.6" text-anchor="middle" fill="#1a1a1a" stroke="#1a1a1a" textLength="88.3" lengthAdjust="spacingAndGlyphs">% of interhydrate water</text>
<text x="269.00" y="200.90" font-size="13" text-anchor="start" font-weight="bold" fill="#1a1a1a" stroke="#1a1a1a" >(h)</text>
<line x1="514.5" y1="312.50" x2="676.5" y2="312.50" stroke="#e4e4e4" stroke-width="0.9"/>
<line x1="514.5" y1="291.50" x2="676.5" y2="291.50" stroke="#e4e4e4" stroke-width="0.9"/>
<line x1="514.5" y1="270.50" x2="676.5" y2="270.50" stroke="#e4e4e4" stroke-width="0.9"/>
<line x1="514.5" y1="249.50" x2="676.5" y2="249.50" stroke="#e4e4e4" stroke-width="0.9"/>
<line x1="514.5" y1="228.50" x2="676.5" y2="228.50" stroke="#e4e4e4" stroke-width="0.9"/>
<line x1="547.54" y1="207.5" x2="547.54" y2="333.5" stroke="#e4e4e4" stroke-width="0.9"/>
<line x1="579.78" y1="207.5" x2="579.78" y2="333.5" stroke="#e4e4e4" stroke-width="0.9"/>
<line x1="612.02" y1="207.5" x2="612.02" y2="333.5" stroke="#e4e4e4" stroke-width="0.9"/>
<line x1="644.26" y1="207.5" x2="644.26" y2="333.5" stroke="#e4e4e4" stroke-width="0.9"/>
<rect x="514.5" y="207.5" width="162.0" height="126.0" fill="none" stroke="#9a9a9a" stroke-width="1"/>
<text x="507.60" y="336.10" font-size="8.4" text-anchor="end" font-weight="normal" fill="#1a1a1a" stroke="#1a1a1a" >0</text>
<text x="507.60" y="315.10" font-size="8.4" text-anchor="end" font-weight="normal" fill="#1a1a1a" stroke="#1a1a1a" >20</text>
<text x="507.60" y="294.10" font-size="8.4" text-anchor="end" font-weight="normal" fill="#1a1a1a" stroke="#1a1a1a" >40</text>
<text x="507.60" y="273.10" font-size="8.4" text-anchor="end" font-weight="normal" fill="#1a1a1a" stroke="#1a1a1a" >60</text>
<text x="507.60" y="252.10" font-size="8.4" text-anchor="end" font-weight="normal" fill="#1a1a1a" stroke="#1a1a1a" >80</text>
<text x="507.60" y="231.10" font-size="8.4" text-anchor="end" font-weight="normal" fill="#1a1a1a" stroke="#1a1a1a" >100</text>
<text x="507.60" y="210.10" font-size="8.4" text-anchor="end" font-weight="normal" fill="#1a1a1a" stroke="#1a1a1a" >120</text>
<text x="515.30" y="347.20" font-size="8.8" text-anchor="middle" font-weight="normal" fill="#1a1a1a" stroke="#1a1a1a" >0</text>
<text x="547.54" y="347.20" font-size="8.8" text-anchor="middle" font-weight="normal" fill="#1a1a1a" stroke="#1a1a1a" >20</text>
<text x="579.78" y="347.20" font-size="8.8" text-anchor="middle" font-weight="normal" fill="#1a1a1a" stroke="#1a1a1a" >40</text>
<text x="612.02" y="347.20" font-size="8.8" text-anchor="middle" font-weight="normal" fill="#1a1a1a" stroke="#1a1a1a" >60</text>
<text x="644.26" y="347.20" font-size="8.8" text-anchor="middle" font-weight="normal" fill="#1a1a1a" stroke="#1a1a1a" >80</text>
<text x="676.50" y="347.20" font-size="8.8" text-anchor="middle" font-weight="normal" fill="#1a1a1a" stroke="#1a1a1a" >100</text>
<text x="595.50" y="359.00" font-size="8.5" text-anchor="middle" font-weight="normal" fill="#1a1a1a" stroke="#1a1a1a" >% of capillary water</text>
<text transform="translate(490.6,277) rotate(-90)" font-size="8.6" text-anchor="middle" fill="#1a1a1a" stroke="#1a1a1a" textLength="101" lengthAdjust="spacingAndGlyphs">Dynamic Yield Stress (Pa)</text>
<text x="523.20" y="199.30" font-size="13" text-anchor="start" font-weight="bold" fill="#1a1a1a" stroke="#1a1a1a" >(i)</text>
<path d="M578.49,232.32 L579.50,234.09 L580.51,235.84 L581.53,237.57 L582.54,239.28 L583.55,240.96 L584.56,242.62 L585.58,244.26 L586.59,245.88 L587.60,247.47 L588.61,249.04 L589.62,250.59 L590.64,252.12 L591.65,253.63 L592.66,255.11 L593.67,256.57 L594.68,258.01 L595.70,259.43 L596.71,260.82 L597.72,262.19 L598.73,263.54 L599.74,264.87 L600.76,266.18 L601.77,267.46 L602.78,268.72 L603.79,269.96 L604.80,271.18 L605.82,272.37 L606.83,273.54 L607.84,274.69 L608.85,275.82 L609.87,276.93 L610.88,278.01 L611.89,279.07 L612.90,280.11 L613.91,281.13 L614.93,282.12 L615.94,283.09 L616.95,284.04 L617.96,284.97 L618.97,285.87 L619.99,286.76 L621.00,287.62 L622.01,288.46 L623.02,289.27 L624.03,290.07 L625.05,290.84 L626.06,291.59 L627.07,292.32 L628.08,293.02 L629.09,293.71 L630.11,294.37 L631.12,295.01 L632.13,295.62 L633.14,296.22 L634.16,296.79 L635.17,297.34 L636.18,297.87 L637.19,298.37 L638.20,298.85 L639.22,299.32 L640.23,299.75 L641.24,300.17 L642.25,300.56 L643.26,300.94 L644.28,301.29 L645.29,301.61 L646.30,301.92 L647.31,302.20 L648.32,302.46 L649.34,302.70 L650.35,302.92 L651.36,303.11 L652.37,303.28 L653.39,303.43 L654.40,303.56 L655.41,303.67 L656.42,303.75 L657.43,303.81 L658.45,303.85" fill="none" stroke="#000" stroke-width="1.1" stroke-dasharray="1.1 1.1"/>
<circle cx="578.49" cy="236.06" r="2.2" fill="#111"/>
<circle cx="600.09" cy="257.90" r="2.2" fill="#111"/>
<circle cx="658.45" cy="294.34" r="2.2" fill="#111"/>
<circle cx="648.29" cy="315.65" r="2.2" fill="#111"/>
<path d="M579.0,234.5 L584.0,220.6 L588.2,220.2" fill="none" stroke="#222" stroke-width="0.7"/>
<path d="M602.0,256.8 L612.0,250.8 L616.4,250.8" fill="none" stroke="#222" stroke-width="0.7"/>
<path d="M658.6,292.0 L661.0,285.0" fill="none" stroke="#222" stroke-width="0.7"/>
<path d="M640.2,316.7 L646.0,316.0" fill="none" stroke="#222" stroke-width="0.7"/>
<text x="590.00" y="218.50" font-size="8.5" text-anchor="start" font-weight="normal" fill="#1a1a1a" stroke="#1a1a1a" >LC3-50</text>
<text x="604.60" y="227.60" font-size="8.5" text-anchor="middle" font-weight="normal" fill="#1a1a1a" stroke="#1a1a1a" >1:1</text>
<text x="617.20" y="248.40" font-size="8.5" text-anchor="start" font-weight="normal" fill="#1a1a1a" stroke="#1a1a1a" >LC3-70</text>
<text x="631.70" y="259.00" font-size="8.5" text-anchor="middle" font-weight="normal" fill="#1a1a1a" stroke="#1a1a1a" >2:1</text>
<text x="649.00" y="281.70" font-size="8.5" text-anchor="start" font-weight="normal" fill="#1a1a1a" stroke="#1a1a1a" >CEM I</text>
<text x="612.20" y="319.70" font-size="8.5" text-anchor="start" font-weight="normal" fill="#1a1a1a" stroke="#1a1a1a" >CEM II</text>
<text x="525.30" y="276.90" font-size="8.8" text-anchor="start" font-weight="bold" fill="#1a1a1a" stroke="#1a1a1a" style="stroke-width:0.12px">R² = 0.9132</text>
</svg>
</div></body></html>
